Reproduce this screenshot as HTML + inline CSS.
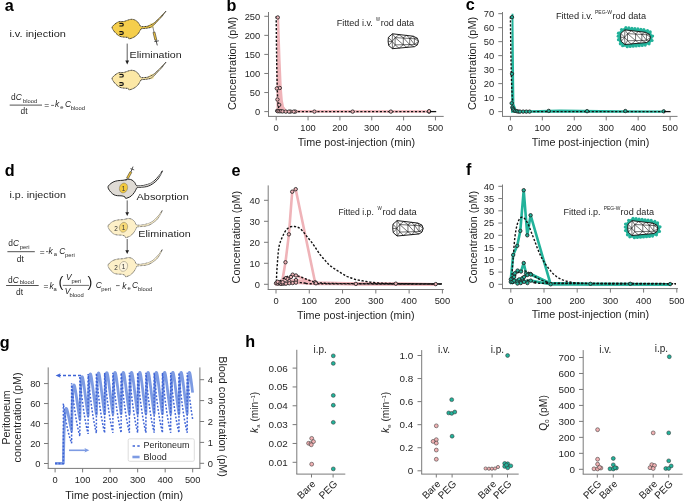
<!DOCTYPE html>
<html><head><meta charset="utf-8"><style>html,body{margin:0;padding:0;background:#fff;width:685px;height:501px;overflow:hidden}</style></head>
<body>
<svg width="685" height="501" viewBox="0 0 685 501" style="position:absolute;left:0;top:0;will-change:transform">
<rect width="685" height="501" fill="#fff"/>
<g font-family="'Liberation Sans', sans-serif" fill="#1f1f1f">
<text x="4.8" y="10.9" font-size="16.2" text-anchor="start" font-weight="bold" fill="#000">a</text>
<text x="9.4" y="36.9" font-size="9.4" text-anchor="start" textLength="56.5" lengthAdjust="spacingAndGlyphs">i.v. injection</text>
<circle cx="151.6" cy="25.6" r="2.6" fill="#fbe27a" opacity="0.55"/>
<path transform="translate(0 0)" d="M112.10,27.60 C112.10,26.78 112.58,26.23 113.40,25.40 C114.22,24.57 115.93,23.25 117.00,22.60 C118.07,21.95 118.82,21.67 119.80,21.50 C120.78,21.33 122.00,21.67 122.90,21.60 C123.80,21.53 124.28,21.38 125.20,21.10 C126.12,20.82 127.35,20.20 128.40,19.90 C129.45,19.60 130.45,19.30 131.50,19.30 C132.55,19.30 133.72,19.50 134.70,19.90 C135.68,20.30 136.65,21.02 137.40,21.70 C138.15,22.38 138.63,23.22 139.20,24.00 C139.77,24.78 140.00,25.97 140.80,26.40 C141.60,26.83 142.83,26.65 144.00,26.60 C145.17,26.55 146.57,26.43 147.80,26.10 C149.03,25.77 150.30,25.18 151.40,24.60 C152.50,24.02 153.48,23.30 154.40,22.60 C155.32,21.90 156.00,21.23 156.90,20.40 C157.80,19.57 158.90,18.50 159.80,17.60 C160.70,16.70 161.28,16.07 162.30,15.00 C163.32,13.93 165.98,10.93 165.90,11.20 C165.82,11.47 163.00,15.15 161.80,16.60 C160.60,18.05 159.67,18.87 158.70,19.90 C157.73,20.93 156.92,21.88 156.00,22.80 C155.08,23.72 154.12,24.63 153.20,25.40 C152.28,26.17 151.70,26.92 150.50,27.40 C149.30,27.88 147.55,28.05 146.00,28.30 C144.45,28.55 142.25,28.42 141.20,28.90 C140.15,29.38 140.25,30.35 139.70,31.20 C139.15,32.05 138.73,33.08 137.90,34.00 C137.07,34.92 135.83,35.97 134.70,36.70 C133.57,37.43 132.08,38.07 131.10,38.40 C130.12,38.73 129.28,38.85 128.80,38.70 C128.32,38.55 128.88,37.75 128.20,37.50 C127.52,37.25 125.80,37.32 124.70,37.20 C123.60,37.08 122.57,37.03 121.60,36.80 C120.63,36.57 119.88,36.42 118.90,35.80 C117.92,35.18 116.62,34.02 115.70,33.10 C114.78,32.18 114.00,31.22 113.40,30.30 C112.80,29.38 112.10,28.42 112.10,27.60 Z" fill="#f5ce4c" stroke="#111" stroke-width="0.85" stroke-dasharray="1.1 0.45" stroke-linejoin="round"/>
<path transform="translate(0 0)" d="M119.4,23.349999999999998 L121.8,23.349999999999998 C123.8,23.349999999999998 123.8,26.05 121.8,26.05 L119.4,26.05" fill="none" stroke="#111" stroke-width="1.1"/>
<path transform="translate(0 0)" d="M119.4,31.65 L121.8,31.65 C123.8,31.65 123.8,34.35 121.8,34.35 L119.4,34.35" fill="none" stroke="#111" stroke-width="1.1"/>
<g stroke="#222" stroke-width="0.55"><path d="M152.8,26.7 L154,32.2"/><path d="M153,32.4 L154.9,32 L156.8,39.8 L154.9,40.2 Z" fill="#eec343"/><path d="M155.9,40 L157.3,45.4" stroke-width="0.8"/><path d="M154.4,41.6 L158.8,40.8" stroke-width="0.8"/></g>
<circle cx="151.6" cy="76.6" r="2.6" fill="#fbe27a" opacity="0.55"/>
<path transform="translate(0 51)" d="M112.10,27.60 C112.10,26.78 112.58,26.23 113.40,25.40 C114.22,24.57 115.93,23.25 117.00,22.60 C118.07,21.95 118.82,21.67 119.80,21.50 C120.78,21.33 122.00,21.67 122.90,21.60 C123.80,21.53 124.28,21.38 125.20,21.10 C126.12,20.82 127.35,20.20 128.40,19.90 C129.45,19.60 130.45,19.30 131.50,19.30 C132.55,19.30 133.72,19.50 134.70,19.90 C135.68,20.30 136.65,21.02 137.40,21.70 C138.15,22.38 138.63,23.22 139.20,24.00 C139.77,24.78 140.00,25.97 140.80,26.40 C141.60,26.83 142.83,26.65 144.00,26.60 C145.17,26.55 146.57,26.43 147.80,26.10 C149.03,25.77 150.30,25.18 151.40,24.60 C152.50,24.02 153.48,23.30 154.40,22.60 C155.32,21.90 156.00,21.23 156.90,20.40 C157.80,19.57 158.90,18.50 159.80,17.60 C160.70,16.70 161.28,16.07 162.30,15.00 C163.32,13.93 165.98,10.93 165.90,11.20 C165.82,11.47 163.00,15.15 161.80,16.60 C160.60,18.05 159.67,18.87 158.70,19.90 C157.73,20.93 156.92,21.88 156.00,22.80 C155.08,23.72 154.12,24.63 153.20,25.40 C152.28,26.17 151.70,26.92 150.50,27.40 C149.30,27.88 147.55,28.05 146.00,28.30 C144.45,28.55 142.25,28.42 141.20,28.90 C140.15,29.38 140.25,30.35 139.70,31.20 C139.15,32.05 138.73,33.08 137.90,34.00 C137.07,34.92 135.83,35.97 134.70,36.70 C133.57,37.43 132.08,38.07 131.10,38.40 C130.12,38.73 129.28,38.85 128.80,38.70 C128.32,38.55 128.88,37.75 128.20,37.50 C127.52,37.25 125.80,37.32 124.70,37.20 C123.60,37.08 122.57,37.03 121.60,36.80 C120.63,36.57 119.88,36.42 118.90,35.80 C117.92,35.18 116.62,34.02 115.70,33.10 C114.78,32.18 114.00,31.22 113.40,30.30 C112.80,29.38 112.10,28.42 112.10,27.60 Z" fill="#fce8a6" stroke="#111" stroke-width="0.85" stroke-dasharray="1.1 0.45" stroke-linejoin="round"/>
<path transform="translate(0 51)" d="M119.4,23.349999999999998 L121.8,23.349999999999998 C123.8,23.349999999999998 123.8,26.05 121.8,26.05 L119.4,26.05" fill="none" stroke="#111" stroke-width="1.1"/>
<path transform="translate(0 51)" d="M119.4,31.65 L121.8,31.65 C123.8,31.65 123.8,34.35 121.8,34.35 L119.4,34.35" fill="none" stroke="#111" stroke-width="1.1"/>
<line x1="127.2" y1="43.6" x2="127.2" y2="61.6" stroke="#333" stroke-width="0.8"/>
<path d="M125.3,60.6 L129.1,60.6 L127.2,64.4 Z" fill="#222"/>
<text x="129.6" y="57.5" font-size="9.4" text-anchor="start" textLength="52.1" lengthAdjust="spacingAndGlyphs">Elimination</text>
<text x="11" y="99.9" font-size="8.4">d</text>
<text x="15.8" y="99.9" font-size="8.4" font-style="italic">C</text>
<text x="23" y="102.8" font-size="5.8">blood</text>
<text x="20.5" y="114.2" font-size="8.4">dt</text>
<text x="44.3" y="108.4" font-size="8.4">=</text>
<text x="54.9" y="107.4" font-size="8.4" font-style="italic">k</text>
<text x="60.3" y="109.2" font-size="5.8">e</text>
<text x="64.9" y="107.4" font-size="8.4" font-style="italic">C</text>
<text x="70.7" y="110.3" font-size="5.8">blood</text>
<line x1="9.7" y1="105.1" x2="42" y2="105.1" stroke="#333" stroke-width="0.85"/>
<line x1="51.1" y1="105.4" x2="54" y2="105.4" stroke="#333" stroke-width="0.7"/>
<text x="4.8" y="175.7" font-size="16.2" text-anchor="start" font-weight="bold" fill="#000">d</text>
<text x="9.4" y="197.5" font-size="9.4" text-anchor="start" textLength="56.5" lengthAdjust="spacingAndGlyphs">i.p. injection</text>
<path transform="translate(0 0)" d="M108.10,186.60 C108.25,185.92 108.58,185.55 109.40,184.80 C110.22,184.05 111.63,182.78 113.00,182.10 C114.37,181.42 115.93,181.00 117.60,180.70 C119.27,180.40 121.57,180.48 123.00,180.30 C124.43,180.12 125.22,179.78 126.20,179.60 C127.18,179.42 127.92,179.12 128.90,179.20 C129.88,179.28 131.12,179.53 132.10,180.10 C133.08,180.67 134.05,181.68 134.80,182.60 C135.55,183.52 135.40,185.08 136.60,185.60 C137.80,186.12 139.90,185.98 142.00,185.70 C144.10,185.42 147.33,184.58 149.20,183.90 C151.07,183.22 151.98,182.50 153.20,181.60 C154.42,180.70 155.43,179.60 156.50,178.50 C157.57,177.40 158.62,176.28 159.60,175.00 C160.58,173.72 162.27,170.77 162.40,170.80 C162.53,170.83 161.23,173.70 160.40,175.20 C159.57,176.70 158.47,178.53 157.40,179.80 C156.33,181.07 155.20,181.88 154.00,182.80 C152.80,183.72 151.45,184.67 150.20,185.30 C148.95,185.93 147.72,186.30 146.50,186.60 C145.28,186.90 144.45,186.92 142.90,187.10 C141.35,187.28 138.33,187.33 137.20,187.70 C136.07,188.07 136.58,188.50 136.10,189.30 C135.62,190.10 135.13,191.37 134.30,192.50 C133.47,193.63 132.15,195.23 131.10,196.10 C130.05,196.97 128.90,197.32 128.00,197.70 C127.10,198.08 126.20,198.52 125.70,198.40 C125.20,198.28 125.60,197.42 125.00,197.00 C124.40,196.58 123.33,196.12 122.10,195.90 C120.87,195.68 118.95,195.88 117.60,195.70 C116.25,195.52 115.13,195.40 114.00,194.80 C112.87,194.20 111.72,193.08 110.80,192.10 C109.88,191.12 108.95,189.82 108.50,188.90 C108.05,187.98 107.95,187.28 108.10,186.60 Z" fill="#dfdbd5" stroke="#1a1a1a" stroke-width="0.95" stroke-linejoin="round"/>
<path transform="translate(0 0)" d="M137.8,186.7 C143,186.6 150,185 155,181 C157.6,178.7 159.6,175.8 161.2,173" fill="none" stroke="#fafafa" stroke-width="0.55"/>
<ellipse transform="translate(0 0) rotate(18 123.5 188)" cx="123.5" cy="188" rx="4" ry="5" fill="#f2c93f" stroke="#333" stroke-width="0.5" stroke-dasharray="0.6 0.5"/>
<text x="123.6" y="190.5" font-size="6.4" text-anchor="middle" fill="#333">1</text>
<g stroke="#222" stroke-width="0.5"><path d="M125.7,181 L127.6,177.6"/><path d="M126.6,177.8 L128.4,178.6 L131.8,172.4 L130,171.6 Z" fill="#ecc23e"/><path d="M131,171.8 L133,166.6" stroke-width="0.8"/><path d="M130.4,168.6 L134.2,169.9" stroke-width="0.7"/></g>
<path transform="translate(0 39.3)" d="M108.10,186.60 C108.25,185.92 108.58,185.55 109.40,184.80 C110.22,184.05 111.63,182.78 113.00,182.10 C114.37,181.42 115.93,181.00 117.60,180.70 C119.27,180.40 121.57,180.48 123.00,180.30 C124.43,180.12 125.22,179.78 126.20,179.60 C127.18,179.42 127.92,179.12 128.90,179.20 C129.88,179.28 131.12,179.53 132.10,180.10 C133.08,180.67 134.05,181.68 134.80,182.60 C135.55,183.52 135.40,185.08 136.60,185.60 C137.80,186.12 139.90,185.98 142.00,185.70 C144.10,185.42 147.33,184.58 149.20,183.90 C151.07,183.22 151.98,182.50 153.20,181.60 C154.42,180.70 155.43,179.60 156.50,178.50 C157.57,177.40 158.62,176.28 159.60,175.00 C160.58,173.72 162.27,170.77 162.40,170.80 C162.53,170.83 161.23,173.70 160.40,175.20 C159.57,176.70 158.47,178.53 157.40,179.80 C156.33,181.07 155.20,181.88 154.00,182.80 C152.80,183.72 151.45,184.67 150.20,185.30 C148.95,185.93 147.72,186.30 146.50,186.60 C145.28,186.90 144.45,186.92 142.90,187.10 C141.35,187.28 138.33,187.33 137.20,187.70 C136.07,188.07 136.58,188.50 136.10,189.30 C135.62,190.10 135.13,191.37 134.30,192.50 C133.47,193.63 132.15,195.23 131.10,196.10 C130.05,196.97 128.90,197.32 128.00,197.70 C127.10,198.08 126.20,198.52 125.70,198.40 C125.20,198.28 125.60,197.42 125.00,197.00 C124.40,196.58 123.33,196.12 122.10,195.90 C120.87,195.68 118.95,195.88 117.60,195.70 C116.25,195.52 115.13,195.40 114.00,194.80 C112.87,194.20 111.72,193.08 110.80,192.10 C109.88,191.12 108.95,189.82 108.50,188.90 C108.05,187.98 107.95,187.28 108.10,186.60 Z" fill="#fdf0c8" stroke="#1a1a1a" stroke-width="0.75" stroke-dasharray="0.75 0.6" stroke-linejoin="round"/>
<path transform="translate(0 39.3)" d="M137.8,186.7 C143,186.6 150,185 155,181 C157.6,178.7 159.6,175.8 161.2,173" fill="none" stroke="#fdf3d2" stroke-width="0.55"/>
<ellipse transform="translate(0 39.3) rotate(18 123.5 188)" cx="123.5" cy="188" rx="4" ry="5" fill="#f7d977" stroke="#333" stroke-width="0.5" stroke-dasharray="0.6 0.5"/>
<text x="123.6" y="229.8" font-size="6.4" text-anchor="middle" fill="#333">1</text>
<text x="116.1" y="230.7" font-size="6.4" text-anchor="middle" fill="#333">2</text>
<path transform="translate(0 78.4)" d="M108.10,186.60 C108.25,185.92 108.58,185.55 109.40,184.80 C110.22,184.05 111.63,182.78 113.00,182.10 C114.37,181.42 115.93,181.00 117.60,180.70 C119.27,180.40 121.57,180.48 123.00,180.30 C124.43,180.12 125.22,179.78 126.20,179.60 C127.18,179.42 127.92,179.12 128.90,179.20 C129.88,179.28 131.12,179.53 132.10,180.10 C133.08,180.67 134.05,181.68 134.80,182.60 C135.55,183.52 135.40,185.08 136.60,185.60 C137.80,186.12 139.90,185.98 142.00,185.70 C144.10,185.42 147.33,184.58 149.20,183.90 C151.07,183.22 151.98,182.50 153.20,181.60 C154.42,180.70 155.43,179.60 156.50,178.50 C157.57,177.40 158.62,176.28 159.60,175.00 C160.58,173.72 162.27,170.77 162.40,170.80 C162.53,170.83 161.23,173.70 160.40,175.20 C159.57,176.70 158.47,178.53 157.40,179.80 C156.33,181.07 155.20,181.88 154.00,182.80 C152.80,183.72 151.45,184.67 150.20,185.30 C148.95,185.93 147.72,186.30 146.50,186.60 C145.28,186.90 144.45,186.92 142.90,187.10 C141.35,187.28 138.33,187.33 137.20,187.70 C136.07,188.07 136.58,188.50 136.10,189.30 C135.62,190.10 135.13,191.37 134.30,192.50 C133.47,193.63 132.15,195.23 131.10,196.10 C130.05,196.97 128.90,197.32 128.00,197.70 C127.10,198.08 126.20,198.52 125.70,198.40 C125.20,198.28 125.60,197.42 125.00,197.00 C124.40,196.58 123.33,196.12 122.10,195.90 C120.87,195.68 118.95,195.88 117.60,195.70 C116.25,195.52 115.13,195.40 114.00,194.80 C112.87,194.20 111.72,193.08 110.80,192.10 C109.88,191.12 108.95,189.82 108.50,188.90 C108.05,187.98 107.95,187.28 108.10,186.60 Z" fill="#fdf0c8" stroke="#1a1a1a" stroke-width="0.75" stroke-dasharray="0.75 0.6" stroke-linejoin="round"/>
<path transform="translate(0 78.4)" d="M137.8,186.7 C143,186.6 150,185 155,181 C157.6,178.7 159.6,175.8 161.2,173" fill="none" stroke="#fdf3d2" stroke-width="0.55"/>
<ellipse transform="translate(0 78.4) rotate(18 123.5 188)" cx="123.5" cy="188" rx="4" ry="5" fill="#fdf4dc" stroke="#333" stroke-width="0.5" stroke-dasharray="0.6 0.5"/>
<text x="123.6" y="268.9" font-size="6.4" text-anchor="middle" fill="#333">1</text>
<text x="116.1" y="269.8" font-size="6.4" text-anchor="middle" fill="#333">2</text>
<text x="136.5" y="199.9" font-size="9.4" text-anchor="start" textLength="52.3" lengthAdjust="spacingAndGlyphs">Absorption</text>
<text x="138.3" y="237.4" font-size="9.4" text-anchor="start" textLength="52.5" lengthAdjust="spacingAndGlyphs">Elimination</text>
<line x1="127.2" y1="200.4" x2="127.2" y2="213" stroke="#333" stroke-width="0.8"/>
<path d="M125.3,212.2 L129.1,212.2 L127.2,216 Z" fill="#222"/>
<line x1="127.2" y1="239" x2="127.2" y2="251" stroke="#333" stroke-width="0.8"/>
<path d="M125.3,250.2 L129.1,250.2 L127.2,254 Z" fill="#222"/>
<text x="8.3" y="246.2" font-size="8.4">d</text>
<text x="13.1" y="246.2" font-size="8.4" font-style="italic">C</text>
<text x="19.8" y="249" font-size="5.8">peri</text>
<text x="16.8" y="261.5" font-size="8.4">dt</text>
<text x="39.8" y="254.5" font-size="8.4">=</text>
<text x="48.6" y="254.4" font-size="8.4" font-style="italic">k</text>
<text x="53.7" y="256" font-size="5.8">a</text>
<text x="59.2" y="254.4" font-size="8.4" font-style="italic">C</text>
<text x="65" y="257.4" font-size="5.8">peri</text>
<line x1="7.4" y1="251.7" x2="34.8" y2="251.7" stroke="#333" stroke-width="0.85"/>
<line x1="46" y1="251.6" x2="48.3" y2="251.6" stroke="#333" stroke-width="0.7"/>
<text x="8" y="282.6" font-size="8.4">d</text>
<text x="12.8" y="282.6" font-size="8.4" font-style="italic">C</text>
<text x="19.7" y="283.6" font-size="5.8">blood</text>
<text x="16" y="295" font-size="8.4">dt</text>
<text x="43.5" y="289" font-size="8.4">=</text>
<text x="49.6" y="288.9" font-size="8.4" font-style="italic">k</text>
<text x="53.6" y="290.5" font-size="5.8">a</text>
<text x="58.6" y="287.4" font-size="14.5">(</text>
<text x="66" y="280" font-size="8.4" font-style="italic">V</text>
<text x="71.5" y="282.5" font-size="5.8">peri</text>
<text x="64.7" y="294" font-size="8.4" font-style="italic">V</text>
<text x="69.6" y="297" font-size="5.8">blood</text>
<text x="87.6" y="287.4" font-size="14.5">)</text>
<text x="95.7" y="288.2" font-size="8.4" font-style="italic">C</text>
<text x="101.3" y="290.8" font-size="5.8">peri</text>
<text x="122.3" y="288.5" font-size="8.4" font-style="italic">k</text>
<text x="127.5" y="290.2" font-size="5.8">e</text>
<text x="132" y="288.2" font-size="8.4" font-style="italic">C</text>
<text x="138" y="290.8" font-size="5.8">blood</text>
<line x1="6.1" y1="285.5" x2="38.7" y2="285.5" stroke="#333" stroke-width="0.85"/>
<line x1="62.8" y1="285.4" x2="89" y2="285.4" stroke="#333" stroke-width="0.7"/>
<line x1="116" y1="285.6" x2="119.7" y2="285.6" stroke="#333" stroke-width="0.7"/>
<text x="226.4" y="10.9" font-size="16.2" text-anchor="start" font-weight="bold" fill="#000">b</text>
<line x1="268.5" y1="12" x2="268.5" y2="116.4" stroke="#7a7a7a" stroke-width="1"/>
<line x1="268" y1="116.4" x2="443.7" y2="116.4" stroke="#7a7a7a" stroke-width="1"/>
<line x1="264.3" y1="111.6" x2="268.5" y2="111.6" stroke="#7a7a7a" stroke-width="1"/>
<text x="260.2" y="114.9" font-size="9.3" text-anchor="end">0</text>
<line x1="264.3" y1="92.54" x2="268.5" y2="92.54" stroke="#7a7a7a" stroke-width="1"/>
<text x="260.2" y="95.84" font-size="9.3" text-anchor="end">50</text>
<line x1="264.3" y1="73.48" x2="268.5" y2="73.48" stroke="#7a7a7a" stroke-width="1"/>
<text x="260.2" y="76.78" font-size="9.3" text-anchor="end">100</text>
<line x1="264.3" y1="54.42" x2="268.5" y2="54.42" stroke="#7a7a7a" stroke-width="1"/>
<text x="260.2" y="57.72" font-size="9.3" text-anchor="end">150</text>
<line x1="264.3" y1="35.36" x2="268.5" y2="35.36" stroke="#7a7a7a" stroke-width="1"/>
<text x="260.2" y="38.66" font-size="9.3" text-anchor="end">200</text>
<line x1="264.3" y1="16.3" x2="268.5" y2="16.3" stroke="#7a7a7a" stroke-width="1"/>
<text x="260.2" y="19.6" font-size="9.3" text-anchor="end">250</text>
<line x1="276.2" y1="116.4" x2="276.2" y2="120.4" stroke="#7a7a7a" stroke-width="1"/>
<text x="276.2" y="131.4" font-size="9.3" text-anchor="middle">0</text>
<line x1="308.05" y1="116.4" x2="308.05" y2="120.4" stroke="#7a7a7a" stroke-width="1"/>
<text x="308.05" y="131.4" font-size="9.3" text-anchor="middle">100</text>
<line x1="339.9" y1="116.4" x2="339.9" y2="120.4" stroke="#7a7a7a" stroke-width="1"/>
<text x="339.9" y="131.4" font-size="9.3" text-anchor="middle">200</text>
<line x1="371.75" y1="116.4" x2="371.75" y2="120.4" stroke="#7a7a7a" stroke-width="1"/>
<text x="371.75" y="131.4" font-size="9.3" text-anchor="middle">300</text>
<line x1="403.6" y1="116.4" x2="403.6" y2="120.4" stroke="#7a7a7a" stroke-width="1"/>
<text x="403.6" y="131.4" font-size="9.3" text-anchor="middle">400</text>
<line x1="435.45" y1="116.4" x2="435.45" y2="120.4" stroke="#7a7a7a" stroke-width="1"/>
<text x="435.45" y="131.4" font-size="9.3" text-anchor="middle">500</text>
<text x="356.4" y="146.1" font-size="10.2" text-anchor="middle" textLength="117.5" lengthAdjust="spacingAndGlyphs">Time post-injection (min)</text>
<text x="236" y="63.5" font-size="10.2" text-anchor="middle" textLength="93.2" lengthAdjust="spacingAndGlyphs" transform="rotate(-90 236 63.5)">Concentration (pM)</text>
<text x="336.7" y="25.8" font-size="8.6" text-anchor="start" textLength="36.2" lengthAdjust="spacingAndGlyphs">Fitted i.v.</text>
<text x="375.9" y="21.2" font-size="5" text-anchor="start" textLength="4" lengthAdjust="spacingAndGlyphs">W</text>
<text x="380.8" y="25.8" font-size="8.6" text-anchor="start" textLength="33.2" lengthAdjust="spacingAndGlyphs">rod data</text>
<g transform="translate(388.1 33.8) scale(1.000 1.000)"><path d="M7,3.8 L7,11.1 M7,3.8 L27.4,5 M7,11.1 L27.4,10.6 M15.2,3.7 L15.2,11 M21.6,4.1 L21.6,10.8 M26.3,4.6 L26.3,10.7 M7,3.8 L15.2,10.9 M15.2,3.9 L21.6,10.8 M21.6,4.3 L26.3,10.6 M4.1,7.6 L4.4,0 M4.1,7.6 L0.3,3.5 M4.1,7.6 L0.6,11.7 M4.1,7.6 L4.4,14.9 M4.1,7.6 L7,3.8 M4.1,7.6 L7,11.1 M4.1,7.6 L0,7.6 M4.4,0 L7,3.8 M4.4,14.9 L7,11.1 M7,3.8 L11,1 L15.2,3.9 L18.5,1.6 L21.6,4.3 L25.1,2.4 M25.1,2.4 L26.3,4.6 M7,11.1 L11,14.4 L15.2,10.9 L19,13.7 L21.6,10.8 L26.3,12.9 M26.3,4.6 L30.4,7.6 L26.3,10.7 M27.4,5 L29.2,4.4 M27.4,10.6 L29.2,11.1" fill="none" stroke="#1a1a1a" stroke-width="0.62" stroke-linejoin="round"/><path d="M4.4,0 L25.1,2.4 L29.2,4.4 L30.4,7.6 L29.2,11.1 L26.3,12.9 L4.4,14.9 L0.6,11.7 L0,7.6 L0.3,3.5 Z" fill="none" stroke="#111" stroke-width="0.95" stroke-linejoin="round"/></g>
<path d="M277.2,17.2 L279.2,17.6 L280.6,60 L281.8,87.5 L282.8,100 L284,106.5 L286.5,110.1 L431,110.3 L431,112.7 L276.6,112.7 L276.4,100 L276.8,60 Z" fill="#efb3b8"/>
<path d="M276.2,16.3 L276.28,25.8 L276.36,34.35 L276.44,42.05 L276.52,48.98 L276.6,55.22 L276.68,60.84 L276.76,65.9 L276.84,70.46 L276.92,74.56 L277,78.25 L277.08,81.58 L277.16,84.57 L277.24,87.26 L277.31,89.69 L277.39,91.87 L277.47,93.84 L277.55,95.61 L277.63,97.2 L277.71,98.64 L277.79,99.93 L277.87,101.09 L277.95,102.14 L278.03,103.08 L278.11,103.93 L278.19,104.7 L278.27,105.38 L278.35,106 L278.43,106.56 L278.51,107.06 L278.59,107.52 L278.67,107.92 L278.75,108.29 L278.83,108.62 L278.91,108.92 L278.99,109.18 L279.07,109.42 L279.15,109.64 L279.23,109.84 L279.31,110.01 L279.38,110.17 L279.46,110.31 L279.54,110.44 L279.62,110.56 L279.7,110.66 L279.78,110.75 L279.86,110.84 L279.94,110.91 L280.02,110.98 L280.1,111.04 L280.18,111.1 L280.26,111.15 L280.34,111.19 L280.42,111.24 L280.5,111.27 L280.58,111.3 L280.66,111.33 L280.74,111.36 L280.82,111.38 L280.9,111.41 L280.98,111.43 L281.06,111.44 L281.14,111.46 L281.22,111.47 L281.3,111.49 L281.38,111.5 L281.46,111.51 L281.53,111.52 L281.61,111.52 L281.69,111.53 L281.77,111.54 L281.85,111.54 L281.93,111.55 L282.01,111.56 L282.09,111.56 L282.17,111.56 L282.25,111.57 L282.33,111.57 L282.41,111.57 L282.49,111.58 L282.57,111.58 L282.65,111.58 L282.73,111.58 L282.81,111.58 L282.89,111.59 L282.97,111.59 L283.05,111.59 L283.13,111.59 L283.21,111.59 L283.29,111.59 L283.37,111.59 L283.45,111.59 L283.53,111.59 L283.61,111.59 L283.68,111.6 L283.76,111.6 L283.84,111.6 L283.92,111.6 L284,111.6 L284.08,111.6 L284.16,111.6 L284.24,111.6 L284.32,111.6 L284.4,111.6 L284.48,111.6 L284.56,111.6 L284.64,111.6 L284.72,111.6 L284.8,111.6 L284.88,111.6 L284.96,111.6 L285.04,111.6 L285.12,111.6 L285.2,111.6 L285.28,111.6 L285.36,111.6 L285.44,111.6 L285.52,111.6 L285.6,111.6 L285.68,111.6 L285.75,111.6 L287.35,111.6 L288.94,111.6 L290.53,111.6 L292.12,111.6 L293.72,111.6 L295.31,111.6 L296.9,111.6 L298.5,111.6 L300.09,111.6 L301.68,111.6 L303.27,111.6 L304.87,111.6 L306.46,111.6 L308.05,111.6 L309.64,111.6 L311.24,111.6 L312.83,111.6 L314.42,111.6 L316.01,111.6 L317.61,111.6 L319.2,111.6 L320.79,111.6 L322.38,111.6 L323.97,111.6 L325.57,111.6 L327.16,111.6 L328.75,111.6 L330.34,111.6 L331.94,111.6 L333.53,111.6 L335.12,111.6 L336.71,111.6 L338.31,111.6 L339.9,111.6 L341.49,111.6 L343.08,111.6 L344.68,111.6 L346.27,111.6 L347.86,111.6 L349.45,111.6 L351.05,111.6 L352.64,111.6 L354.23,111.6 L355.82,111.6 L357.42,111.6 L359.01,111.6 L360.6,111.6 L362.19,111.6 L363.79,111.6 L365.38,111.6 L366.97,111.6 L368.56,111.6 L370.16,111.6 L371.75,111.6 L373.34,111.6 L374.94,111.6 L376.53,111.6 L378.12,111.6 L379.71,111.6 L381.31,111.6 L382.9,111.6 L384.49,111.6 L386.08,111.6 L387.68,111.6 L389.27,111.6 L390.86,111.6 L392.45,111.6 L394.04,111.6 L395.64,111.6 L397.23,111.6 L398.82,111.6 L400.41,111.6 L402.01,111.6 L403.6,111.6 L405.19,111.6 L406.78,111.6 L408.38,111.6 L409.97,111.6 L411.56,111.6 L413.15,111.6 L414.75,111.6 L416.34,111.6 L417.93,111.6 L419.52,111.6 L421.12,111.6 L422.71,111.6 L424.3,111.6 L425.89,111.6 L427.49,111.6 L429.08,111.6" fill="none" stroke="#111" stroke-width="1.4" stroke-dasharray="2.2 1.7" stroke-linecap="butt"/>
<circle cx="277.79" cy="17.44" r="1.7" fill="#efb3b8" stroke="#222" stroke-width="0.85"/>
<circle cx="279.8" cy="87.97" r="1.7" fill="#efb3b8" stroke="#222" stroke-width="0.85"/>
<circle cx="276.81" cy="88.46" r="1.7" fill="#efb3b8" stroke="#222" stroke-width="0.85"/>
<circle cx="277.41" cy="99.52" r="1.7" fill="#efb3b8" stroke="#222" stroke-width="0.85"/>
<circle cx="279.19" cy="104.89" r="1.7" fill="#efb3b8" stroke="#222" stroke-width="0.85"/>
<circle cx="277.16" cy="110.84" r="1.7" fill="#efb3b8" stroke="#222" stroke-width="0.85"/>
<circle cx="277.79" cy="111.22" r="1.7" fill="#efb3b8" stroke="#222" stroke-width="0.85"/>
<circle cx="279.38" cy="111.22" r="1.7" fill="#efb3b8" stroke="#222" stroke-width="0.85"/>
<circle cx="280.98" cy="111.22" r="1.7" fill="#efb3b8" stroke="#222" stroke-width="0.85"/>
<circle cx="282.57" cy="111.41" r="1.7" fill="#efb3b8" stroke="#222" stroke-width="0.85"/>
<circle cx="285.75" cy="111.6" r="1.7" fill="#efb3b8" stroke="#222" stroke-width="0.85"/>
<circle cx="290.53" cy="111.6" r="1.7" fill="#efb3b8" stroke="#222" stroke-width="0.85"/>
<circle cx="295.31" cy="111.6" r="1.7" fill="#efb3b8" stroke="#222" stroke-width="0.85"/>
<circle cx="293.72" cy="111.6" r="1.7" fill="#efb3b8" stroke="#222" stroke-width="0.85"/>
<circle cx="288.94" cy="111.6" r="1.7" fill="#efb3b8" stroke="#222" stroke-width="0.85"/>
<circle cx="314.42" cy="111.6" r="1.7" fill="#efb3b8" stroke="#222" stroke-width="0.85"/>
<circle cx="352.64" cy="111.6" r="1.7" fill="#efb3b8" stroke="#222" stroke-width="0.85"/>
<circle cx="390.86" cy="111.6" r="1.7" fill="#efb3b8" stroke="#222" stroke-width="0.85"/>
<circle cx="429.08" cy="111.6" r="1.7" fill="#efb3b8" stroke="#222" stroke-width="0.85"/>
<circle cx="429.08" cy="111.22" r="1.7" fill="#efb3b8" stroke="#222" stroke-width="0.85"/>
<line x1="430" y1="111.6" x2="436.2" y2="111.6" stroke="#111" stroke-width="1.3"/>
<text x="465.8" y="10.3" font-size="16.2" text-anchor="start" font-weight="bold" fill="#000">c</text>
<line x1="502.5" y1="12" x2="502.5" y2="116.4" stroke="#7a7a7a" stroke-width="1"/>
<line x1="502" y1="116.4" x2="677.5" y2="116.4" stroke="#7a7a7a" stroke-width="1"/>
<line x1="498.3" y1="111.6" x2="502.5" y2="111.6" stroke="#7a7a7a" stroke-width="1"/>
<text x="494.2" y="114.9" font-size="9.3" text-anchor="end">0</text>
<line x1="498.3" y1="97.61" x2="502.5" y2="97.61" stroke="#7a7a7a" stroke-width="1"/>
<text x="494.2" y="100.91" font-size="9.3" text-anchor="end">10</text>
<line x1="498.3" y1="83.62" x2="502.5" y2="83.62" stroke="#7a7a7a" stroke-width="1"/>
<text x="494.2" y="86.92" font-size="9.3" text-anchor="end">20</text>
<line x1="498.3" y1="69.63" x2="502.5" y2="69.63" stroke="#7a7a7a" stroke-width="1"/>
<text x="494.2" y="72.93" font-size="9.3" text-anchor="end">30</text>
<line x1="498.3" y1="55.64" x2="502.5" y2="55.64" stroke="#7a7a7a" stroke-width="1"/>
<text x="494.2" y="58.94" font-size="9.3" text-anchor="end">40</text>
<line x1="498.3" y1="41.65" x2="502.5" y2="41.65" stroke="#7a7a7a" stroke-width="1"/>
<text x="494.2" y="44.95" font-size="9.3" text-anchor="end">50</text>
<line x1="498.3" y1="27.66" x2="502.5" y2="27.66" stroke="#7a7a7a" stroke-width="1"/>
<text x="494.2" y="30.96" font-size="9.3" text-anchor="end">60</text>
<line x1="498.3" y1="13.67" x2="502.5" y2="13.67" stroke="#7a7a7a" stroke-width="1"/>
<text x="494.2" y="16.97" font-size="9.3" text-anchor="end">70</text>
<line x1="510.4" y1="116.4" x2="510.4" y2="120.4" stroke="#7a7a7a" stroke-width="1"/>
<text x="510.4" y="131.4" font-size="9.3" text-anchor="middle">0</text>
<line x1="542.34" y1="116.4" x2="542.34" y2="120.4" stroke="#7a7a7a" stroke-width="1"/>
<text x="542.34" y="131.4" font-size="9.3" text-anchor="middle">100</text>
<line x1="574.28" y1="116.4" x2="574.28" y2="120.4" stroke="#7a7a7a" stroke-width="1"/>
<text x="574.28" y="131.4" font-size="9.3" text-anchor="middle">200</text>
<line x1="606.22" y1="116.4" x2="606.22" y2="120.4" stroke="#7a7a7a" stroke-width="1"/>
<text x="606.22" y="131.4" font-size="9.3" text-anchor="middle">300</text>
<line x1="638.16" y1="116.4" x2="638.16" y2="120.4" stroke="#7a7a7a" stroke-width="1"/>
<text x="638.16" y="131.4" font-size="9.3" text-anchor="middle">400</text>
<line x1="670.1" y1="116.4" x2="670.1" y2="120.4" stroke="#7a7a7a" stroke-width="1"/>
<text x="670.1" y="131.4" font-size="9.3" text-anchor="middle">500</text>
<text x="590.6" y="146.1" font-size="10.2" text-anchor="middle" textLength="117.5" lengthAdjust="spacingAndGlyphs">Time post-injection (min)</text>
<text x="476" y="63.5" font-size="10.2" text-anchor="middle" textLength="93.2" lengthAdjust="spacingAndGlyphs" transform="rotate(-90 476 63.5)">Concentration (pM)</text>
<text x="555.9" y="18.9" font-size="8.6" text-anchor="start" textLength="36.9" lengthAdjust="spacingAndGlyphs">Fitted i.v.</text>
<text x="595" y="13.6" font-size="5" text-anchor="start" textLength="17" lengthAdjust="spacingAndGlyphs">PEG-W</text>
<text x="612.4" y="18.9" font-size="8.6" text-anchor="start" textLength="33.6" lengthAdjust="spacingAndGlyphs">rod data</text>
<g transform="translate(620.6 29.9) scale(0.984 0.980)"><path d="M4.4,0 L25.1,2.4 L29.2,4.4 L30.4,7.6 L29.2,11.1 L26.3,12.9 L4.4,14.9 L0.6,11.7 L0,7.6 L0.3,3.5 Z" fill="#22b29a" stroke="#22b29a" stroke-width="4.6" stroke-linejoin="round"/><g fill="#22b29a"><circle cx="5.38" cy="-2.40" r="1.6"/><circle cx="8.42" cy="-2.05" r="1.6"/><circle cx="11.47" cy="-1.70" r="1.6"/><circle cx="14.51" cy="-1.34" r="1.6"/><circle cx="17.55" cy="-0.99" r="1.6"/><circle cx="20.59" cy="-0.64" r="1.6"/><circle cx="23.63" cy="-0.29" r="1.6"/><circle cx="27.36" cy="0.72" r="1.6"/><circle cx="30.11" cy="2.06" r="1.6"/><circle cx="32.54" cy="6.19" r="1.6"/><circle cx="31.96" cy="10.77" r="1.6"/><circle cx="28.94" cy="14.20" r="1.6"/><circle cx="25.03" cy="15.53" r="1.6"/><circle cx="21.98" cy="15.81" r="1.6"/><circle cx="18.93" cy="16.08" r="1.6"/><circle cx="15.88" cy="16.36" r="1.6"/><circle cx="12.83" cy="16.64" r="1.6"/><circle cx="9.78" cy="16.92" r="1.6"/><circle cx="6.74" cy="17.20" r="1.6"/><circle cx="2.07" cy="16.20" r="1.6"/><circle cx="-0.27" cy="14.23" r="1.6"/><circle cx="-2.18" cy="9.98" r="1.6"/><circle cx="-2.42" cy="6.40" r="1.6"/><circle cx="-2.20" cy="3.35" r="1.6"/><circle cx="0.98" cy="-0.37" r="1.6"/></g><path d="M4.4,0 L25.1,2.4 L29.2,4.4 L30.4,7.6 L29.2,11.1 L26.3,12.9 L4.4,14.9 L0.6,11.7 L0,7.6 L0.3,3.5 Z" fill="#fff"/><path d="M7,3.8 L7,11.1 M7,3.8 L27.4,5 M7,11.1 L27.4,10.6 M15.2,3.7 L15.2,11 M21.6,4.1 L21.6,10.8 M26.3,4.6 L26.3,10.7 M7,3.8 L15.2,10.9 M15.2,3.9 L21.6,10.8 M21.6,4.3 L26.3,10.6 M4.1,7.6 L4.4,0 M4.1,7.6 L0.3,3.5 M4.1,7.6 L0.6,11.7 M4.1,7.6 L4.4,14.9 M4.1,7.6 L7,3.8 M4.1,7.6 L7,11.1 M4.1,7.6 L0,7.6 M4.4,0 L7,3.8 M4.4,14.9 L7,11.1 M7,3.8 L11,1 L15.2,3.9 L18.5,1.6 L21.6,4.3 L25.1,2.4 M25.1,2.4 L26.3,4.6 M7,11.1 L11,14.4 L15.2,10.9 L19,13.7 L21.6,10.8 L26.3,12.9 M26.3,4.6 L30.4,7.6 L26.3,10.7 M27.4,5 L29.2,4.4 M27.4,10.6 L29.2,11.1" fill="none" stroke="#1a1a1a" stroke-width="0.62" stroke-linejoin="round"/><path d="M4.4,0 L25.1,2.4 L29.2,4.4 L30.4,7.6 L29.2,11.1 L26.3,12.9 L4.4,14.9 L0.6,11.7 L0,7.6 L0.3,3.5 Z" fill="none" stroke="#111" stroke-width="0.95" stroke-linejoin="round"/></g>
<path d="M511.6,13.7 L513.4,13.7 L514.4,104 L516.6,109.8 L520,110.6 L560,109.6 L620,110.2 L665,110.6 L665,112.8 L511,112.8 L511.2,100 Z" fill="#22b29a"/>
<path d="M510.4,16.47 L510.48,23.78 L510.56,30.53 L510.64,36.77 L510.72,42.52 L510.8,47.83 L510.88,52.73 L510.96,57.26 L511.04,61.44 L511.12,65.29 L511.2,68.85 L511.28,72.14 L511.36,75.17 L511.44,77.98 L511.52,80.56 L511.6,82.95 L511.68,85.15 L511.76,87.18 L511.84,89.06 L511.92,90.79 L512,92.39 L512.08,93.87 L512.16,95.23 L512.24,96.49 L512.32,97.65 L512.4,98.73 L512.48,99.72 L512.56,100.63 L512.64,101.47 L512.72,102.25 L512.8,102.97 L512.88,103.63 L512.96,104.25 L513.04,104.81 L513.11,105.33 L513.19,105.82 L513.27,106.26 L513.35,106.67 L513.43,107.05 L513.51,107.4 L513.59,107.72 L513.67,108.02 L513.75,108.3 L513.83,108.55 L513.91,108.78 L513.99,109 L514.07,109.2 L514.15,109.38 L514.23,109.56 L514.31,109.71 L514.39,109.86 L514.47,109.99 L514.55,110.12 L514.63,110.23 L514.71,110.33 L514.79,110.43 L514.87,110.52 L514.95,110.6 L515.03,110.68 L515.11,110.75 L515.19,110.82 L515.27,110.88 L515.35,110.93 L515.43,110.98 L515.51,111.03 L515.59,111.08 L515.67,111.12 L515.75,111.15 L515.83,111.19 L515.91,111.22 L515.99,111.25 L516.07,111.28 L516.15,111.3 L516.23,111.32 L516.31,111.34 L516.39,111.36 L516.47,111.38 L516.55,111.4 L516.63,111.41 L516.71,111.43 L516.79,111.44 L516.87,111.45 L516.95,111.47 L517.03,111.48 L517.11,111.49 L517.19,111.49 L517.27,111.5 L517.35,111.51 L517.43,111.52 L517.51,111.52 L517.59,111.53 L517.67,111.53 L517.75,111.54 L517.83,111.54 L517.91,111.55 L517.99,111.55 L518.07,111.56 L518.15,111.56 L518.23,111.56 L518.31,111.57 L518.38,111.57 L519.98,111.59 L521.58,111.6 L523.18,111.6 L524.77,111.6 L526.37,111.6 L527.97,111.6 L529.56,111.6 L531.16,111.6 L532.76,111.6 L534.36,111.6 L535.95,111.6 L537.55,111.6 L539.15,111.6 L540.74,111.6 L542.34,111.6 L543.94,111.6 L545.53,111.6 L547.13,111.6 L548.73,111.6 L550.32,111.6 L551.92,111.6 L553.52,111.6 L555.12,111.6 L556.71,111.6 L558.31,111.6 L559.91,111.6 L561.5,111.6 L563.1,111.6 L564.7,111.6 L566.29,111.6 L567.89,111.6 L569.49,111.6 L571.09,111.6 L572.68,111.6 L574.28,111.6 L575.88,111.6 L577.47,111.6 L579.07,111.6 L580.67,111.6 L582.26,111.6 L583.86,111.6 L585.46,111.6 L587.06,111.6 L588.65,111.6 L590.25,111.6 L591.85,111.6 L593.44,111.6 L595.04,111.6 L596.64,111.6 L598.24,111.6 L599.83,111.6 L601.43,111.6 L603.03,111.6 L604.62,111.6 L606.22,111.6 L607.82,111.6 L609.41,111.6 L611.01,111.6 L612.61,111.6 L614.2,111.6 L615.8,111.6 L617.4,111.6 L619,111.6 L620.59,111.6 L622.19,111.6 L623.79,111.6 L625.38,111.6 L626.98,111.6 L628.58,111.6 L630.17,111.6 L631.77,111.6 L633.37,111.6 L634.97,111.6 L636.56,111.6 L638.16,111.6 L639.76,111.6 L641.35,111.6 L642.95,111.6 L644.55,111.6 L646.14,111.6 L647.74,111.6 L649.34,111.6 L650.94,111.6 L652.53,111.6 L654.13,111.6 L655.73,111.6 L657.32,111.6 L658.92,111.6 L660.52,111.6 L662.12,111.6 L663.71,111.6" fill="none" stroke="#111" stroke-width="1.4" stroke-dasharray="2.2 1.7" stroke-linecap="butt"/>
<circle cx="512" cy="17.17" r="1.7" fill="#22b29a" stroke="#222" stroke-width="0.85"/>
<circle cx="512" cy="73.83" r="1.7" fill="#22b29a" stroke="#222" stroke-width="0.85"/>
<circle cx="511.68" cy="103.21" r="1.7" fill="#22b29a" stroke="#222" stroke-width="0.85"/>
<circle cx="512.32" cy="107.4" r="1.7" fill="#22b29a" stroke="#222" stroke-width="0.85"/>
<circle cx="512.96" cy="108.8" r="1.7" fill="#22b29a" stroke="#222" stroke-width="0.85"/>
<circle cx="513.59" cy="110.2" r="1.7" fill="#22b29a" stroke="#222" stroke-width="0.85"/>
<circle cx="515.19" cy="110.9" r="1.7" fill="#22b29a" stroke="#222" stroke-width="0.85"/>
<circle cx="516.79" cy="111.18" r="1.7" fill="#22b29a" stroke="#222" stroke-width="0.85"/>
<circle cx="518.38" cy="111.6" r="1.7" fill="#22b29a" stroke="#222" stroke-width="0.85"/>
<circle cx="519.98" cy="111.6" r="1.7" fill="#22b29a" stroke="#222" stroke-width="0.85"/>
<circle cx="523.18" cy="111.6" r="1.7" fill="#22b29a" stroke="#222" stroke-width="0.85"/>
<circle cx="526.37" cy="111.6" r="1.7" fill="#22b29a" stroke="#222" stroke-width="0.85"/>
<circle cx="529.56" cy="111.6" r="1.7" fill="#22b29a" stroke="#222" stroke-width="0.85"/>
<circle cx="548.73" cy="110.9" r="1.7" fill="#22b29a" stroke="#222" stroke-width="0.85"/>
<circle cx="587.06" cy="111.18" r="1.7" fill="#22b29a" stroke="#222" stroke-width="0.85"/>
<circle cx="625.38" cy="111.04" r="1.7" fill="#22b29a" stroke="#222" stroke-width="0.85"/>
<circle cx="663.71" cy="111.32" r="1.7" fill="#22b29a" stroke="#222" stroke-width="0.85"/>
<line x1="664" y1="111.6" x2="670.6" y2="111.6" stroke="#111" stroke-width="1.3"/>
<text x="231.4" y="175.5" font-size="16.2" text-anchor="start" font-weight="bold" fill="#000">e</text>
<line x1="268.2" y1="185.4" x2="268.2" y2="289.5" stroke="#7a7a7a" stroke-width="1"/>
<line x1="267.7" y1="289.5" x2="443.8" y2="289.5" stroke="#7a7a7a" stroke-width="1"/>
<line x1="264" y1="284.3" x2="268.2" y2="284.3" stroke="#7a7a7a" stroke-width="1"/>
<text x="259.9" y="287.6" font-size="9.3" text-anchor="end">0</text>
<line x1="264" y1="263.3" x2="268.2" y2="263.3" stroke="#7a7a7a" stroke-width="1"/>
<text x="259.9" y="266.6" font-size="9.3" text-anchor="end">10</text>
<line x1="264" y1="242.3" x2="268.2" y2="242.3" stroke="#7a7a7a" stroke-width="1"/>
<text x="259.9" y="245.6" font-size="9.3" text-anchor="end">20</text>
<line x1="264" y1="221.3" x2="268.2" y2="221.3" stroke="#7a7a7a" stroke-width="1"/>
<text x="259.9" y="224.6" font-size="9.3" text-anchor="end">30</text>
<line x1="264" y1="200.3" x2="268.2" y2="200.3" stroke="#7a7a7a" stroke-width="1"/>
<text x="259.9" y="203.6" font-size="9.3" text-anchor="end">40</text>
<line x1="276" y1="289.5" x2="276" y2="293.5" stroke="#7a7a7a" stroke-width="1"/>
<text x="276" y="304.4" font-size="9.3" text-anchor="middle">0</text>
<line x1="309.28" y1="289.5" x2="309.28" y2="293.5" stroke="#7a7a7a" stroke-width="1"/>
<text x="309.28" y="304.4" font-size="9.3" text-anchor="middle">100</text>
<line x1="342.56" y1="289.5" x2="342.56" y2="293.5" stroke="#7a7a7a" stroke-width="1"/>
<text x="342.56" y="304.4" font-size="9.3" text-anchor="middle">200</text>
<line x1="375.84" y1="289.5" x2="375.84" y2="293.5" stroke="#7a7a7a" stroke-width="1"/>
<text x="375.84" y="304.4" font-size="9.3" text-anchor="middle">300</text>
<line x1="409.12" y1="289.5" x2="409.12" y2="293.5" stroke="#7a7a7a" stroke-width="1"/>
<text x="409.12" y="304.4" font-size="9.3" text-anchor="middle">400</text>
<line x1="442.4" y1="289.5" x2="442.4" y2="293.5" stroke="#7a7a7a" stroke-width="1"/>
<text x="442.4" y="304.4" font-size="9.3" text-anchor="middle">500</text>
<text x="355.8" y="319.2" font-size="10.2" text-anchor="middle" textLength="117.5" lengthAdjust="spacingAndGlyphs">Time post-injection (min)</text>
<text x="240.4" y="237.2" font-size="10.2" text-anchor="middle" textLength="92.4" lengthAdjust="spacingAndGlyphs" transform="rotate(-90 240.4 237.2)">Concentration (pM)</text>
<text x="338.4" y="214.5" font-size="8.6" text-anchor="start" textLength="35.4" lengthAdjust="spacingAndGlyphs">Fitted i.p.</text>
<text x="377.5" y="209.9" font-size="5" text-anchor="start" textLength="4.3" lengthAdjust="spacingAndGlyphs">W</text>
<text x="382.5" y="214.5" font-size="8.6" text-anchor="start" textLength="34.2" lengthAdjust="spacingAndGlyphs">rod data</text>
<g transform="translate(392.7 220.6) scale(1.003 1.034)"><path d="M7,3.8 L7,11.1 M7,3.8 L27.4,5 M7,11.1 L27.4,10.6 M15.2,3.7 L15.2,11 M21.6,4.1 L21.6,10.8 M26.3,4.6 L26.3,10.7 M7,3.8 L15.2,10.9 M15.2,3.9 L21.6,10.8 M21.6,4.3 L26.3,10.6 M4.1,7.6 L4.4,0 M4.1,7.6 L0.3,3.5 M4.1,7.6 L0.6,11.7 M4.1,7.6 L4.4,14.9 M4.1,7.6 L7,3.8 M4.1,7.6 L7,11.1 M4.1,7.6 L0,7.6 M4.4,0 L7,3.8 M4.4,14.9 L7,11.1 M7,3.8 L11,1 L15.2,3.9 L18.5,1.6 L21.6,4.3 L25.1,2.4 M25.1,2.4 L26.3,4.6 M7,11.1 L11,14.4 L15.2,10.9 L19,13.7 L21.6,10.8 L26.3,12.9 M26.3,4.6 L30.4,7.6 L26.3,10.7 M27.4,5 L29.2,4.4 M27.4,10.6 L29.2,11.1" fill="none" stroke="#1a1a1a" stroke-width="0.62" stroke-linejoin="round"/><path d="M4.4,0 L25.1,2.4 L29.2,4.4 L30.4,7.6 L29.2,11.1 L26.3,12.9 L4.4,14.9 L0.6,11.7 L0,7.6 L0.3,3.5 Z" fill="none" stroke="#111" stroke-width="0.95" stroke-linejoin="round"/></g>
<polyline points="276,283.25 281.99,282.41 285.48,262.25 288.91,234.32 292.21,191.69 295.7,189.17 315.27,283.25 355.87,283.88 395.81,283.88 435.74,284.3" fill="none" stroke="#efb3b8" stroke-width="2.6" stroke-linejoin="round" stroke-linecap="round"/>
<polyline points="276,283.67 280.99,283.25 285.98,278 290.98,276.95 292.64,274.64 295.97,275.48 305.95,280.1 315.94,282.62 355.87,283.67 395.81,283.88 435.74,284.3" fill="none" stroke="#efb3b8" stroke-width="2.6" stroke-linejoin="round" stroke-linecap="round"/>
<polyline points="276,283.88 282.66,283.67 289.31,281.15 295.97,280.1 315.94,283.25 355.87,284.3 435.74,284.3" fill="none" stroke="#efb3b8" stroke-width="2.6" stroke-linejoin="round" stroke-linecap="round"/>
<polyline points="276,284.3 285.98,283.67 295.97,282.62 315.94,283.88 435.74,284.3" fill="none" stroke="#efb3b8" stroke-width="2.6" stroke-linejoin="round" stroke-linecap="round"/>
<path d="M276.4,281.8 L276.44,280.61 L276.49,279.04 L276.55,277.15 L276.63,274.98 L276.75,272.58 L276.9,270 L277.1,266.99 L277.36,263.46 L277.64,259.7 L277.93,256.01 L278.23,252.68 L278.5,250 L278.75,248.06 L278.99,246.64 L279.23,245.58 L279.47,244.72 L279.72,243.91 L280,243 L280.29,242.05 L280.57,241.2 L280.88,240.4 L281.2,239.6 L281.57,238.75 L282,237.8 L282.5,236.69 L283.06,235.46 L283.66,234.18 L284.28,232.92 L284.9,231.77 L285.5,230.8 L286.08,230.02 L286.67,229.38 L287.25,228.84 L287.83,228.38 L288.42,227.97 L289,227.6 L289.58,227.27 L290.17,226.99 L290.75,226.78 L291.33,226.61 L291.92,226.48 L292.5,226.4 L293.08,226.36 L293.67,226.38 L294.25,226.44 L294.83,226.54 L295.42,226.66 L296,226.8 L296.58,226.94 L297.17,227.09 L297.75,227.26 L298.33,227.48 L298.92,227.75 L299.5,228.1 L300.08,228.53 L300.67,229.04 L301.25,229.6 L301.83,230.21 L302.42,230.85 L303,231.5 L303.58,232.19 L304.17,232.93 L304.75,233.7 L305.33,234.48 L305.92,235.25 L306.5,236 L307.08,236.71 L307.67,237.41 L308.25,238.09 L308.83,238.78 L309.42,239.48 L310,240.2 L310.58,240.94 L311.17,241.68 L311.75,242.44 L312.33,243.21 L312.92,243.99 L313.5,244.8 L314.08,245.63 L314.66,246.49 L315.24,247.36 L315.83,248.24 L316.41,249.12 L317,250 L317.58,250.88 L318.16,251.77 L318.74,252.66 L319.34,253.55 L319.95,254.43 L320.6,255.3 L321.29,256.16 L322.01,257 L322.76,257.84 L323.51,258.67 L324.26,259.49 L325,260.3 L325.72,261.1 L326.44,261.91 L327.16,262.71 L327.87,263.48 L328.58,264.21 L329.3,264.9 L330.02,265.53 L330.73,266.11 L331.44,266.66 L332.16,267.19 L332.88,267.69 L333.6,268.2 L334.33,268.7 L335.06,269.17 L335.79,269.63 L336.53,270.09 L337.27,270.54 L338,271 L338.73,271.47 L339.47,271.94 L340.2,272.42 L340.93,272.89 L341.67,273.35 L342.4,273.8 L343.13,274.24 L343.87,274.69 L344.6,275.12 L345.33,275.54 L346.07,275.93 L346.8,276.3 L347.53,276.63 L348.27,276.93 L349,277.21 L349.73,277.48 L350.47,277.74 L351.2,278 L351.93,278.27 L352.67,278.54 L353.4,278.8 L354.13,279.05 L354.87,279.29 L355.6,279.5 L356.33,279.69 L357.07,279.85 L357.8,279.99 L358.53,280.13 L359.27,280.26 L360,280.4 L360.72,280.54 L361.42,280.67 L362.12,280.8 L362.84,280.93 L363.6,281.06 L364.4,281.2 L365.25,281.35 L366.14,281.5 L367.06,281.66 L368.01,281.81 L368.99,281.96 L370,282.1 L370.96,282.23 L371.87,282.35 L372.81,282.46 L373.86,282.57 L375.09,282.69 L376.6,282.8 L378.36,282.92 L380.32,283.05 L382.46,283.18 L384.79,283.3 L387.31,283.41 L390,283.5 L392.81,283.57 L395.73,283.63 L398.84,283.68 L402.2,283.72 L405.9,283.76 L410,283.8 L415.01,283.84 L420.96,283.88 L427.25,283.92 L433.26,283.95 L438.38,283.98 L442,284" fill="none" stroke="#111" stroke-width="1.4" stroke-dasharray="2.2 1.7" stroke-linecap="butt"/>
<path d="M276.4,283.6 L276.79,283.32 L277.32,282.93 L277.95,282.48 L278.64,281.98 L279.34,281.48 L280,281 L280.63,280.54 L281.27,280.06 L281.91,279.57 L282.58,279.1 L283.27,278.63 L284,278.2 L284.77,277.78 L285.58,277.36 L286.42,276.96 L287.27,276.59 L288.14,276.27 L289,276 L289.87,275.79 L290.77,275.63 L291.67,275.51 L292.57,275.43 L293.45,275.39 L294.3,275.4 L295.11,275.45 L295.9,275.55 L296.67,275.69 L297.43,275.87 L298.21,276.07 L299,276.3 L299.8,276.55 L300.61,276.84 L301.42,277.16 L302.25,277.49 L303.11,277.84 L304,278.2 L304.94,278.58 L305.93,278.99 L306.94,279.41 L307.96,279.83 L308.99,280.23 L310,280.6 L310.98,280.93 L311.93,281.25 L312.88,281.54 L313.85,281.82 L314.88,282.07 L316,282.3 L317.13,282.5 L318.22,282.68 L319.38,282.83 L320.67,282.97 L322.18,283.09 L324,283.2 L325.21,283.3 L325.56,283.37 L326.12,283.44 L328,283.49 L332.26,283.54 L340,283.6 L353.2,283.66 L371.41,283.72 L392,283.78 L412.37,283.83 L429.91,283.87 L442,283.9" fill="none" stroke="#111" stroke-width="1.4" stroke-dasharray="2.2 1.7" stroke-linecap="butt"/>
<path d="M276.4,284 L276.98,283.89 L277.76,283.73 L278.7,283.55 L279.75,283.36 L280.86,283.17 L282,283 L283.19,282.84 L284.49,282.68 L285.85,282.53 L287.24,282.39 L288.64,282.27 L290,282.2 L291.33,282.17 L292.67,282.17 L294,282.2 L295.33,282.25 L296.67,282.32 L298,282.4 L299.26,282.5 L300.44,282.63 L301.62,282.77 L302.89,282.93 L304.32,283.07 L306,283.2 L306.74,283.32 L306.22,283.43 L305.88,283.54 L307.11,283.64 L311.35,283.73 L320,283.8 L335.5,283.86 L357.19,283.9 L381.88,283.94 L406.37,283.96 L427.48,283.98 L442,284" fill="none" stroke="#111" stroke-width="1.4" stroke-dasharray="2.2 1.7" stroke-linecap="butt"/>
<circle cx="292.21" cy="191.69" r="1.7" fill="#efb3b8" stroke="#222" stroke-width="0.85"/>
<circle cx="295.7" cy="189.17" r="1.7" fill="#efb3b8" stroke="#222" stroke-width="0.85"/>
<circle cx="288.91" cy="234.32" r="1.7" fill="#efb3b8" stroke="#222" stroke-width="0.85"/>
<circle cx="285.48" cy="262.25" r="1.7" fill="#efb3b8" stroke="#222" stroke-width="0.85"/>
<circle cx="315.27" cy="282.2" r="1.7" fill="#efb3b8" stroke="#222" stroke-width="0.85"/>
<circle cx="315.94" cy="283.25" r="1.7" fill="#efb3b8" stroke="#222" stroke-width="0.85"/>
<circle cx="292.64" cy="274.64" r="1.7" fill="#efb3b8" stroke="#222" stroke-width="0.85"/>
<circle cx="295.97" cy="275.48" r="1.7" fill="#efb3b8" stroke="#222" stroke-width="0.85"/>
<circle cx="290.98" cy="276.95" r="1.7" fill="#efb3b8" stroke="#222" stroke-width="0.85"/>
<circle cx="285.98" cy="278" r="1.7" fill="#efb3b8" stroke="#222" stroke-width="0.85"/>
<circle cx="287.65" cy="279.05" r="1.7" fill="#efb3b8" stroke="#222" stroke-width="0.85"/>
<circle cx="289.31" cy="281.15" r="1.7" fill="#efb3b8" stroke="#222" stroke-width="0.85"/>
<circle cx="295.97" cy="280.1" r="1.7" fill="#efb3b8" stroke="#222" stroke-width="0.85"/>
<circle cx="276" cy="283.25" r="1.7" fill="#efb3b8" stroke="#222" stroke-width="0.85"/>
<circle cx="277.66" cy="283.67" r="1.7" fill="#efb3b8" stroke="#222" stroke-width="0.85"/>
<circle cx="279.33" cy="283.25" r="1.7" fill="#efb3b8" stroke="#222" stroke-width="0.85"/>
<circle cx="280.99" cy="283.88" r="1.7" fill="#efb3b8" stroke="#222" stroke-width="0.85"/>
<circle cx="282.66" cy="283.67" r="1.7" fill="#efb3b8" stroke="#222" stroke-width="0.85"/>
<circle cx="284.32" cy="283.46" r="1.7" fill="#efb3b8" stroke="#222" stroke-width="0.85"/>
<circle cx="285.98" cy="283.67" r="1.7" fill="#efb3b8" stroke="#222" stroke-width="0.85"/>
<circle cx="289.31" cy="283.25" r="1.7" fill="#efb3b8" stroke="#222" stroke-width="0.85"/>
<circle cx="292.64" cy="283.04" r="1.7" fill="#efb3b8" stroke="#222" stroke-width="0.85"/>
<circle cx="295.97" cy="282.62" r="1.7" fill="#efb3b8" stroke="#222" stroke-width="0.85"/>
<circle cx="279.33" cy="282.2" r="1.7" fill="#efb3b8" stroke="#222" stroke-width="0.85"/>
<circle cx="282.66" cy="282.2" r="1.7" fill="#efb3b8" stroke="#222" stroke-width="0.85"/>
<circle cx="277.66" cy="281.78" r="1.7" fill="#efb3b8" stroke="#222" stroke-width="0.85"/>
<circle cx="355.87" cy="283.88" r="1.7" fill="#efb3b8" stroke="#222" stroke-width="0.85"/>
<circle cx="395.81" cy="283.67" r="1.7" fill="#efb3b8" stroke="#222" stroke-width="0.85"/>
<circle cx="435.74" cy="284.09" r="1.7" fill="#efb3b8" stroke="#222" stroke-width="0.85"/>
<text x="465.9" y="175" font-size="16.2" text-anchor="start" font-weight="bold" fill="#000">f</text>
<line x1="502.5" y1="184.5" x2="502.5" y2="288.6" stroke="#7a7a7a" stroke-width="1"/>
<line x1="502" y1="288.6" x2="678" y2="288.6" stroke="#7a7a7a" stroke-width="1"/>
<line x1="498.3" y1="284.3" x2="502.5" y2="284.3" stroke="#7a7a7a" stroke-width="1"/>
<text x="494.2" y="287.6" font-size="9.3" text-anchor="end">0</text>
<line x1="498.3" y1="272.05" x2="502.5" y2="272.05" stroke="#7a7a7a" stroke-width="1"/>
<text x="494.2" y="275.35" font-size="9.3" text-anchor="end">5</text>
<line x1="498.3" y1="259.8" x2="502.5" y2="259.8" stroke="#7a7a7a" stroke-width="1"/>
<text x="494.2" y="263.1" font-size="9.3" text-anchor="end">10</text>
<line x1="498.3" y1="247.55" x2="502.5" y2="247.55" stroke="#7a7a7a" stroke-width="1"/>
<text x="494.2" y="250.85" font-size="9.3" text-anchor="end">15</text>
<line x1="498.3" y1="235.3" x2="502.5" y2="235.3" stroke="#7a7a7a" stroke-width="1"/>
<text x="494.2" y="238.6" font-size="9.3" text-anchor="end">20</text>
<line x1="498.3" y1="223.05" x2="502.5" y2="223.05" stroke="#7a7a7a" stroke-width="1"/>
<text x="494.2" y="226.35" font-size="9.3" text-anchor="end">25</text>
<line x1="498.3" y1="210.8" x2="502.5" y2="210.8" stroke="#7a7a7a" stroke-width="1"/>
<text x="494.2" y="214.1" font-size="9.3" text-anchor="end">30</text>
<line x1="498.3" y1="198.55" x2="502.5" y2="198.55" stroke="#7a7a7a" stroke-width="1"/>
<text x="494.2" y="201.85" font-size="9.3" text-anchor="end">35</text>
<line x1="498.3" y1="186.3" x2="502.5" y2="186.3" stroke="#7a7a7a" stroke-width="1"/>
<text x="494.2" y="189.6" font-size="9.3" text-anchor="end">40</text>
<line x1="510.8" y1="288.6" x2="510.8" y2="292.6" stroke="#7a7a7a" stroke-width="1"/>
<text x="510.8" y="303.6" font-size="9.3" text-anchor="middle">0</text>
<line x1="544" y1="288.6" x2="544" y2="292.6" stroke="#7a7a7a" stroke-width="1"/>
<text x="544" y="303.6" font-size="9.3" text-anchor="middle">100</text>
<line x1="577.2" y1="288.6" x2="577.2" y2="292.6" stroke="#7a7a7a" stroke-width="1"/>
<text x="577.2" y="303.6" font-size="9.3" text-anchor="middle">200</text>
<line x1="610.4" y1="288.6" x2="610.4" y2="292.6" stroke="#7a7a7a" stroke-width="1"/>
<text x="610.4" y="303.6" font-size="9.3" text-anchor="middle">300</text>
<line x1="643.6" y1="288.6" x2="643.6" y2="292.6" stroke="#7a7a7a" stroke-width="1"/>
<text x="643.6" y="303.6" font-size="9.3" text-anchor="middle">400</text>
<line x1="676.8" y1="288.6" x2="676.8" y2="292.6" stroke="#7a7a7a" stroke-width="1"/>
<text x="676.8" y="303.6" font-size="9.3" text-anchor="middle">500</text>
<text x="590.4" y="318.3" font-size="10.2" text-anchor="middle" textLength="117.5" lengthAdjust="spacingAndGlyphs">Time post-injection (min)</text>
<text x="476.6" y="237.2" font-size="10.2" text-anchor="middle" textLength="92.4" lengthAdjust="spacingAndGlyphs" transform="rotate(-90 476.6 237.2)">Concentration (pM)</text>
<text x="563.4" y="214.7" font-size="8.6" text-anchor="start" textLength="37.2" lengthAdjust="spacingAndGlyphs">Fitted i.p.</text>
<text x="603.7" y="209.6" font-size="5" text-anchor="start" textLength="16.7" lengthAdjust="spacingAndGlyphs">PEG-W</text>
<text x="620.6" y="214.7" font-size="8.6" text-anchor="start" textLength="33.4" lengthAdjust="spacingAndGlyphs">rod data</text>
<g transform="translate(627.7 220.7) scale(0.993 0.993)"><path d="M4.4,0 L25.1,2.4 L29.2,4.4 L30.4,7.6 L29.2,11.1 L26.3,12.9 L4.4,14.9 L0.6,11.7 L0,7.6 L0.3,3.5 Z" fill="#22b29a" stroke="#22b29a" stroke-width="4.6" stroke-linejoin="round"/><g fill="#22b29a"><circle cx="5.38" cy="-2.40" r="1.6"/><circle cx="8.42" cy="-2.05" r="1.6"/><circle cx="11.47" cy="-1.70" r="1.6"/><circle cx="14.51" cy="-1.34" r="1.6"/><circle cx="17.55" cy="-0.99" r="1.6"/><circle cx="20.59" cy="-0.64" r="1.6"/><circle cx="23.63" cy="-0.29" r="1.6"/><circle cx="27.36" cy="0.72" r="1.6"/><circle cx="30.11" cy="2.06" r="1.6"/><circle cx="32.54" cy="6.19" r="1.6"/><circle cx="31.96" cy="10.77" r="1.6"/><circle cx="28.94" cy="14.20" r="1.6"/><circle cx="25.03" cy="15.53" r="1.6"/><circle cx="21.98" cy="15.81" r="1.6"/><circle cx="18.93" cy="16.08" r="1.6"/><circle cx="15.88" cy="16.36" r="1.6"/><circle cx="12.83" cy="16.64" r="1.6"/><circle cx="9.78" cy="16.92" r="1.6"/><circle cx="6.74" cy="17.20" r="1.6"/><circle cx="2.07" cy="16.20" r="1.6"/><circle cx="-0.27" cy="14.23" r="1.6"/><circle cx="-2.18" cy="9.98" r="1.6"/><circle cx="-2.42" cy="6.40" r="1.6"/><circle cx="-2.20" cy="3.35" r="1.6"/><circle cx="0.98" cy="-0.37" r="1.6"/></g><path d="M4.4,0 L25.1,2.4 L29.2,4.4 L30.4,7.6 L29.2,11.1 L26.3,12.9 L4.4,14.9 L0.6,11.7 L0,7.6 L0.3,3.5 Z" fill="#fff"/><path d="M7,3.8 L7,11.1 M7,3.8 L27.4,5 M7,11.1 L27.4,10.6 M15.2,3.7 L15.2,11 M21.6,4.1 L21.6,10.8 M26.3,4.6 L26.3,10.7 M7,3.8 L15.2,10.9 M15.2,3.9 L21.6,10.8 M21.6,4.3 L26.3,10.6 M4.1,7.6 L4.4,0 M4.1,7.6 L0.3,3.5 M4.1,7.6 L0.6,11.7 M4.1,7.6 L4.4,14.9 M4.1,7.6 L7,3.8 M4.1,7.6 L7,11.1 M4.1,7.6 L0,7.6 M4.4,0 L7,3.8 M4.4,14.9 L7,11.1 M7,3.8 L11,1 L15.2,3.9 L18.5,1.6 L21.6,4.3 L25.1,2.4 M25.1,2.4 L26.3,4.6 M7,11.1 L11,14.4 L15.2,10.9 L19,13.7 L21.6,10.8 L26.3,12.9 M26.3,4.6 L30.4,7.6 L26.3,10.7 M27.4,5 L29.2,4.4 M27.4,10.6 L29.2,11.1" fill="none" stroke="#1a1a1a" stroke-width="0.62" stroke-linejoin="round"/><path d="M4.4,0 L25.1,2.4 L29.2,4.4 L30.4,7.6 L29.2,11.1 L26.3,12.9 L4.4,14.9 L0.6,11.7 L0,7.6 L0.3,3.5 Z" fill="none" stroke="#111" stroke-width="0.95" stroke-linejoin="round"/></g>
<polyline points="510.8,279.4 513.19,254.9 517.21,245.84 520.3,230.89 523.71,190.22 527.3,235.3 530.59,215.21 550.64,284.3 590.48,284.3 630.32,284.3 670.16,284.3" fill="none" stroke="#22b29a" stroke-width="2.6" stroke-linejoin="round" stroke-linecap="round"/>
<polyline points="510.8,280.62 512.69,278.42 514.78,273.28 517.61,270.58 520.99,271.56 523.71,262.99 526.07,273.52 530.59,274.01 550.64,283.32 590.48,284.3 670.16,284.3" fill="none" stroke="#22b29a" stroke-width="2.6" stroke-linejoin="round" stroke-linecap="round"/>
<polyline points="510.8,281.85 514.12,280.62 519.1,279.4 524.08,276.95 527.4,274.99 530.72,274.5 550.64,283.56 670.16,284.3" fill="none" stroke="#22b29a" stroke-width="2.6" stroke-linejoin="round" stroke-linecap="round"/>
<polyline points="510.8,283.07 517.44,281.85 524.08,281.36 530.72,280.62 550.64,284.3 670.16,284.3" fill="none" stroke="#22b29a" stroke-width="2.6" stroke-linejoin="round" stroke-linecap="round"/>
<path d="M511.8,283 L511.85,281.62 L511.9,279.75 L511.98,277.52 L512.06,275.06 L512.17,272.51 L512.3,270 L512.46,267.47 L512.64,264.79 L512.85,262.02 L513.07,259.21 L513.29,256.42 L513.5,253.7 L513.71,251 L513.91,248.25 L514.11,245.52 L514.33,242.87 L514.55,240.34 L514.8,238 L515.07,235.83 L515.35,233.8 L515.64,231.89 L515.95,230.1 L516.27,228.44 L516.6,226.9 L516.94,225.48 L517.3,224.2 L517.66,223.04 L518.04,221.99 L518.42,221.05 L518.8,220.2 L519.18,219.46 L519.57,218.82 L519.96,218.29 L520.36,217.86 L520.77,217.53 L521.2,217.3 L521.65,217.18 L522.11,217.17 L522.59,217.26 L523.07,217.44 L523.54,217.69 L524,218 L524.45,218.38 L524.89,218.86 L525.33,219.4 L525.76,220 L526.18,220.64 L526.6,221.3 L527.02,221.99 L527.43,222.74 L527.84,223.52 L528.24,224.33 L528.63,225.16 L529,226 L529.34,226.82 L529.64,227.61 L529.93,228.43 L530.24,229.3 L530.58,230.28 L531,231.4 L531.5,232.71 L532.06,234.17 L532.67,235.74 L533.29,237.35 L533.91,238.96 L534.5,240.5 L535.06,242 L535.62,243.51 L536.17,245.02 L536.71,246.5 L537.26,247.93 L537.8,249.3 L538.34,250.6 L538.86,251.86 L539.39,253.06 L539.91,254.23 L540.45,255.38 L541,256.5 L541.55,257.59 L542.11,258.64 L542.67,259.67 L543.25,260.68 L543.86,261.68 L544.5,262.7 L545.19,263.73 L545.93,264.78 L546.69,265.82 L547.47,266.84 L548.24,267.84 L549,268.8 L549.73,269.72 L550.45,270.62 L551.16,271.49 L551.89,272.33 L552.63,273.13 L553.4,273.9 L554.2,274.63 L555.01,275.33 L555.84,275.99 L556.7,276.63 L557.58,277.23 L558.5,277.8 L559.46,278.34 L560.45,278.86 L561.47,279.34 L562.51,279.8 L563.55,280.22 L564.6,280.6 L565.64,280.95 L566.69,281.25 L567.74,281.53 L568.81,281.77 L569.9,281.99 L571,282.2 L571.96,282.38 L572.73,282.54 L573.52,282.67 L574.53,282.79 L575.96,282.89 L578,283 L580.17,283.11 L582.22,283.2 L584.69,283.29 L588.11,283.37 L593.03,283.44 L600,283.5 L610.42,283.54 L624.15,283.57 L639.38,283.58 L654.3,283.59 L667.11,283.59 L676,283.6" fill="none" stroke="#111" stroke-width="1.4" stroke-dasharray="2.2 1.7" stroke-linecap="butt"/>
<path d="M512,283.6 L512.21,282.98 L512.48,282.11 L512.81,281.08 L513.19,279.99 L513.59,278.93 L514,278 L514.43,277.16 L514.89,276.34 L515.38,275.54 L515.89,274.8 L516.43,274.11 L517,273.5 L517.61,272.97 L518.26,272.49 L518.94,272.08 L519.63,271.73 L520.32,271.44 L521,271.2 L521.67,271.03 L522.33,270.91 L523,270.86 L523.67,270.86 L524.33,270.91 L525,271 L525.66,271.13 L526.3,271.3 L526.94,271.52 L527.59,271.79 L528.28,272.11 L529,272.5 L529.76,272.97 L530.56,273.52 L531.38,274.12 L532.22,274.76 L533.1,275.39 L534,276 L534.92,276.59 L535.85,277.2 L536.81,277.81 L537.81,278.41 L538.87,278.97 L540,279.5 L541.17,279.99 L542.37,280.46 L543.62,280.89 L544.96,281.3 L546.41,281.67 L548,282 L548.56,282.28 L547.85,282.53 L547.25,282.73 L548.15,282.91 L551.94,283.06 L560,283.2 L574.66,283.32 L595.26,283.41 L618.75,283.48 L642.07,283.53 L662.18,283.57 L676,283.6" fill="none" stroke="#111" stroke-width="1.4" stroke-dasharray="2.2 1.7" stroke-linecap="butt"/>
<path d="M512,284 L512.41,283.72 L512.96,283.31 L513.62,282.84 L514.37,282.35 L515.17,281.89 L516,281.5 L516.88,281.17 L517.85,280.86 L518.88,280.58 L519.93,280.34 L520.98,280.14 L522,280 L522.98,279.92 L523.93,279.88 L524.88,279.89 L525.85,279.95 L526.88,280.05 L528,280.2 L529.17,280.41 L530.37,280.7 L531.62,281.02 L532.96,281.37 L534.41,281.7 L536,282 L536.43,282.27 L535.41,282.53 L534.5,282.79 L535.26,283.02 L539.24,283.23 L548,283.4 L564.1,283.53 L586.81,283.62 L612.75,283.69 L638.52,283.73 L660.73,283.77 L676,283.8" fill="none" stroke="#111" stroke-width="1.4" stroke-dasharray="2.2 1.7" stroke-linecap="butt"/>
<circle cx="523.71" cy="190.22" r="1.7" fill="#22b29a" stroke="#222" stroke-width="0.85"/>
<circle cx="530.59" cy="215.21" r="1.7" fill="#22b29a" stroke="#222" stroke-width="0.85"/>
<circle cx="520.3" cy="230.89" r="1.7" fill="#22b29a" stroke="#222" stroke-width="0.85"/>
<circle cx="527.3" cy="235.3" r="1.7" fill="#22b29a" stroke="#222" stroke-width="0.85"/>
<circle cx="517.21" cy="245.84" r="1.7" fill="#22b29a" stroke="#222" stroke-width="0.85"/>
<circle cx="513.19" cy="254.9" r="1.7" fill="#22b29a" stroke="#222" stroke-width="0.85"/>
<circle cx="523.71" cy="262.99" r="1.7" fill="#22b29a" stroke="#222" stroke-width="0.85"/>
<circle cx="517.61" cy="270.58" r="1.7" fill="#22b29a" stroke="#222" stroke-width="0.85"/>
<circle cx="520.99" cy="271.56" r="1.7" fill="#22b29a" stroke="#222" stroke-width="0.85"/>
<circle cx="526.07" cy="273.52" r="1.7" fill="#22b29a" stroke="#222" stroke-width="0.85"/>
<circle cx="530.59" cy="274.01" r="1.7" fill="#22b29a" stroke="#222" stroke-width="0.85"/>
<circle cx="512.69" cy="278.42" r="1.7" fill="#22b29a" stroke="#222" stroke-width="0.85"/>
<circle cx="514.78" cy="273.28" r="1.7" fill="#22b29a" stroke="#222" stroke-width="0.85"/>
<circle cx="512.46" cy="278.18" r="1.7" fill="#22b29a" stroke="#222" stroke-width="0.85"/>
<circle cx="514.12" cy="276.95" r="1.7" fill="#22b29a" stroke="#222" stroke-width="0.85"/>
<circle cx="550.64" cy="284.3" r="1.7" fill="#22b29a" stroke="#222" stroke-width="0.85"/>
<circle cx="510.8" cy="279.4" r="1.7" fill="#22b29a" stroke="#222" stroke-width="0.85"/>
<circle cx="510.8" cy="281.85" r="1.7" fill="#22b29a" stroke="#222" stroke-width="0.85"/>
<circle cx="512.46" cy="281.85" r="1.7" fill="#22b29a" stroke="#222" stroke-width="0.85"/>
<circle cx="514.12" cy="280.62" r="1.7" fill="#22b29a" stroke="#222" stroke-width="0.85"/>
<circle cx="517.44" cy="281.36" r="1.7" fill="#22b29a" stroke="#222" stroke-width="0.85"/>
<circle cx="519.1" cy="279.4" r="1.7" fill="#22b29a" stroke="#222" stroke-width="0.85"/>
<circle cx="520.76" cy="281.85" r="1.7" fill="#22b29a" stroke="#222" stroke-width="0.85"/>
<circle cx="522.42" cy="278.18" r="1.7" fill="#22b29a" stroke="#222" stroke-width="0.85"/>
<circle cx="524.08" cy="276.95" r="1.7" fill="#22b29a" stroke="#222" stroke-width="0.85"/>
<circle cx="527.4" cy="274.99" r="1.7" fill="#22b29a" stroke="#222" stroke-width="0.85"/>
<circle cx="530.72" cy="274.5" r="1.7" fill="#22b29a" stroke="#222" stroke-width="0.85"/>
<circle cx="524.08" cy="281.85" r="1.7" fill="#22b29a" stroke="#222" stroke-width="0.85"/>
<circle cx="527.4" cy="283.07" r="1.7" fill="#22b29a" stroke="#222" stroke-width="0.85"/>
<circle cx="530.72" cy="280.62" r="1.7" fill="#22b29a" stroke="#222" stroke-width="0.85"/>
<circle cx="520.76" cy="283.07" r="1.7" fill="#22b29a" stroke="#222" stroke-width="0.85"/>
<circle cx="517.44" cy="283.56" r="1.7" fill="#22b29a" stroke="#222" stroke-width="0.85"/>
<circle cx="590.48" cy="283.81" r="1.7" fill="#22b29a" stroke="#222" stroke-width="0.85"/>
<circle cx="630.32" cy="283.81" r="1.7" fill="#22b29a" stroke="#222" stroke-width="0.85"/>
<circle cx="670.16" cy="284.06" r="1.7" fill="#22b29a" stroke="#222" stroke-width="0.85"/>
<text x="-0.3" y="347.6" font-size="16.2" text-anchor="start" font-weight="bold" fill="#000">g</text>
<line x1="48.2" y1="367.4" x2="48.2" y2="468.4" stroke="#7a7a7a" stroke-width="1"/>
<line x1="47.7" y1="468.4" x2="200.4" y2="468.4" stroke="#7a7a7a" stroke-width="1"/>
<line x1="199.9" y1="367.4" x2="199.9" y2="468.4" stroke="#7a7a7a" stroke-width="1"/>
<line x1="44" y1="463.5" x2="48.2" y2="463.5" stroke="#7a7a7a" stroke-width="1"/>
<text x="40.5" y="466.8" font-size="9.3" text-anchor="end">0</text>
<line x1="44" y1="443.52" x2="48.2" y2="443.52" stroke="#7a7a7a" stroke-width="1"/>
<text x="40.5" y="446.82" font-size="9.3" text-anchor="end">20</text>
<line x1="44" y1="423.54" x2="48.2" y2="423.54" stroke="#7a7a7a" stroke-width="1"/>
<text x="40.5" y="426.84" font-size="9.3" text-anchor="end">40</text>
<line x1="44" y1="403.56" x2="48.2" y2="403.56" stroke="#7a7a7a" stroke-width="1"/>
<text x="40.5" y="406.86" font-size="9.3" text-anchor="end">60</text>
<line x1="44" y1="383.58" x2="48.2" y2="383.58" stroke="#7a7a7a" stroke-width="1"/>
<text x="40.5" y="386.88" font-size="9.3" text-anchor="end">80</text>
<line x1="199.9" y1="463.3" x2="204.1" y2="463.3" stroke="#7a7a7a" stroke-width="1"/>
<text x="207.8" y="466.6" font-size="9.3" text-anchor="start">0</text>
<line x1="199.9" y1="442.4" x2="204.1" y2="442.4" stroke="#7a7a7a" stroke-width="1"/>
<text x="207.8" y="445.7" font-size="9.3" text-anchor="start">1</text>
<line x1="199.9" y1="421.5" x2="204.1" y2="421.5" stroke="#7a7a7a" stroke-width="1"/>
<text x="207.8" y="424.8" font-size="9.3" text-anchor="start">2</text>
<line x1="199.9" y1="400.6" x2="204.1" y2="400.6" stroke="#7a7a7a" stroke-width="1"/>
<text x="207.8" y="403.9" font-size="9.3" text-anchor="start">3</text>
<line x1="199.9" y1="379.7" x2="204.1" y2="379.7" stroke="#7a7a7a" stroke-width="1"/>
<text x="207.8" y="383" font-size="9.3" text-anchor="start">4</text>
<line x1="55.1" y1="468.4" x2="55.1" y2="472.4" stroke="#7a7a7a" stroke-width="1"/>
<text x="55.1" y="482.6" font-size="9.3" text-anchor="middle">0</text>
<line x1="82.62" y1="468.4" x2="82.62" y2="472.4" stroke="#7a7a7a" stroke-width="1"/>
<text x="82.62" y="482.6" font-size="9.3" text-anchor="middle">100</text>
<line x1="110.14" y1="468.4" x2="110.14" y2="472.4" stroke="#7a7a7a" stroke-width="1"/>
<text x="110.14" y="482.6" font-size="9.3" text-anchor="middle">200</text>
<line x1="137.66" y1="468.4" x2="137.66" y2="472.4" stroke="#7a7a7a" stroke-width="1"/>
<text x="137.66" y="482.6" font-size="9.3" text-anchor="middle">300</text>
<line x1="165.18" y1="468.4" x2="165.18" y2="472.4" stroke="#7a7a7a" stroke-width="1"/>
<text x="165.18" y="482.6" font-size="9.3" text-anchor="middle">400</text>
<line x1="192.7" y1="468.4" x2="192.7" y2="472.4" stroke="#7a7a7a" stroke-width="1"/>
<text x="192.7" y="482.6" font-size="9.3" text-anchor="middle">500</text>
<text x="124.2" y="499" font-size="10.2" text-anchor="middle" textLength="117.7" lengthAdjust="spacingAndGlyphs">Time post-injection (min)</text>
<text x="9.9" y="417.5" font-size="10.2" text-anchor="middle" textLength="54" lengthAdjust="spacingAndGlyphs" transform="rotate(-90 9.9 417.5)">Peritoneum</text>
<text x="20.8" y="417.5" font-size="10.2" text-anchor="middle" textLength="90" lengthAdjust="spacingAndGlyphs" transform="rotate(-90 20.8 417.5)">concentration (pM)</text>
<text x="219.2" y="416.5" font-size="10.2" text-anchor="middle" textLength="120.5" lengthAdjust="spacingAndGlyphs" transform="rotate(90 219.2 416.5)">Blood concentration (pM)</text>
<path d="M55.10,463.30 L55.24,463.30 L55.38,463.30 L55.51,463.30 L55.65,463.30 L55.79,463.30 L55.93,463.30 L56.06,463.30 L56.20,463.30 L56.34,463.30 L56.48,463.30 L56.61,463.30 L56.75,463.30 L56.89,463.30 L57.03,463.30 L57.16,463.30 L57.30,463.30 L57.44,463.30 L57.58,463.30 L57.71,463.30 L57.85,463.30 L57.99,463.30 L58.13,463.30 L58.26,463.30 L58.40,463.30 L58.54,463.30 L58.68,463.30 L58.82,463.30 L58.95,463.30 L59.09,463.30 L59.23,463.30 L59.37,463.30 L59.50,463.30 L59.64,463.30 L59.78,463.30 L59.92,463.30 L60.05,463.30 L60.19,463.30 L60.33,463.30 L60.47,463.30 L60.60,463.30 L60.74,463.30 L60.88,463.30 L61.02,463.30 L61.15,463.30 L61.29,463.30 L61.43,463.30 L61.57,463.30 L61.70,463.30 L61.84,463.30 L61.98,463.30 L62.12,463.30 L62.26,463.30 L62.39,463.30 L62.53,463.30 L62.67,463.30 L62.81,463.30 L62.94,463.30 L63.08,463.30 L63.22,463.30 L63.36,463.30 L63.36,463.30 L63.48,456.45 L63.62,449.65 L63.76,443.64 L63.89,438.33 L64.03,433.66 L64.17,429.56 L64.31,425.98 L64.44,422.86 L64.58,420.16 L64.72,417.84 L64.86,415.85 L64.99,414.16 L65.13,412.75 L65.27,411.58 L65.41,410.63 L65.54,409.88 L65.68,409.30 L65.82,408.88 L65.96,408.60 L66.09,408.44 L66.23,408.40 L66.37,408.45 L66.51,408.59 L66.64,408.81 L66.78,409.10 L66.92,409.45 L67.06,409.85 L67.20,410.30 L67.33,410.78 L67.47,411.31 L67.61,411.86 L67.75,412.44 L67.88,413.04 L68.02,413.66 L68.16,414.30 L68.30,414.94 L68.43,415.60 L68.57,416.27 L68.71,416.94 L68.85,417.62 L68.98,418.29 L69.12,418.97 L69.26,419.65 L69.40,420.33 L69.53,421.01 L69.67,421.68 L69.81,422.35 L69.95,423.01 L70.08,423.67 L70.22,424.32 L70.36,424.96 L70.50,425.60 L70.64,426.24 L70.77,426.86 L70.91,427.48 L71.05,428.09 L71.19,428.69 L71.32,429.28 L71.46,429.87 L71.60,430.44 L71.61,430.50 L71.61,430.50 L71.72,424.83 L71.86,418.51 L72.00,412.97 L72.13,408.14 L72.27,403.95 L72.41,400.32 L72.55,397.21 L72.69,394.56 L72.82,392.32 L72.96,390.45 L73.10,388.92 L73.24,387.68 L73.37,386.72 L73.51,385.99 L73.65,385.47 L73.79,385.14 L73.92,384.99 L74.06,384.98 L74.20,385.11 L74.34,385.36 L74.47,385.72 L74.61,386.16 L74.75,386.69 L74.89,387.29 L75.02,387.96 L75.16,388.67 L75.30,389.44 L75.44,390.24 L75.57,391.08 L75.71,391.95 L75.85,392.85 L75.99,393.76 L76.13,394.69 L76.26,395.64 L76.40,396.59 L76.54,397.55 L76.68,398.52 L76.81,399.49 L76.95,400.46 L77.09,401.43 L77.23,402.39 L77.36,403.35 L77.50,404.31 L77.64,405.26 L77.78,406.20 L77.91,407.14 L78.05,408.07 L78.19,408.98 L78.33,409.89 L78.46,410.79 L78.60,411.67 L78.74,412.55 L78.88,413.41 L79.01,414.27 L79.15,415.11 L79.29,415.94 L79.43,416.76 L79.57,417.56 L79.70,418.36 L79.84,419.14 L79.87,419.29 L79.87,419.29 L79.96,414.44 L80.10,408.23 L80.24,402.82 L80.38,398.11 L80.51,394.04 L80.65,390.55 L80.79,387.57 L80.93,385.05 L81.07,382.95 L81.20,381.21 L81.34,379.82 L81.48,378.72 L81.62,377.89 L81.75,377.29 L81.89,376.91 L82.03,376.72 L82.17,376.70 L82.30,376.83 L82.44,377.09 L82.58,377.47 L82.72,377.96 L82.85,378.54 L82.99,379.19 L83.13,379.92 L83.27,380.71 L83.40,381.55 L83.54,382.43 L83.68,383.36 L83.82,384.32 L83.95,385.30 L84.09,386.31 L84.23,387.34 L84.37,388.38 L84.51,389.44 L84.64,390.50 L84.78,391.57 L84.92,392.64 L85.06,393.71 L85.19,394.78 L85.33,395.85 L85.47,396.91 L85.61,397.97 L85.74,399.02 L85.88,400.06 L86.02,401.10 L86.16,402.13 L86.29,403.14 L86.43,404.15 L86.57,405.14 L86.71,406.12 L86.84,407.09 L86.98,408.05 L87.12,408.99 L87.26,409.92 L87.39,410.84 L87.53,411.75 L87.67,412.64 L87.81,413.52 L87.95,414.38 L88.08,415.24 L88.12,415.49 L88.12,415.49 L88.21,411.34 L88.34,405.12 L88.48,399.70 L88.62,394.99 L88.76,390.92 L88.89,387.44 L89.03,384.47 L89.17,381.97 L89.31,379.88 L89.44,378.17 L89.58,376.80 L89.72,375.73 L89.86,374.93 L90.00,374.37 L90.13,374.02 L90.27,373.86 L90.41,373.88 L90.55,374.04 L90.68,374.34 L90.82,374.76 L90.96,375.28 L91.10,375.90 L91.23,376.59 L91.37,377.36 L91.51,378.18 L91.65,379.06 L91.78,379.99 L91.92,380.95 L92.06,381.95 L92.20,382.97 L92.33,384.02 L92.47,385.08 L92.61,386.16 L92.75,387.25 L92.88,388.35 L93.02,389.46 L93.16,390.56 L93.30,391.67 L93.44,392.78 L93.57,393.88 L93.71,394.98 L93.85,396.07 L93.99,397.15 L94.12,398.23 L94.26,399.29 L94.40,400.35 L94.54,401.40 L94.67,402.43 L94.81,403.46 L94.95,404.47 L95.09,405.47 L95.22,406.45 L95.36,407.42 L95.50,408.38 L95.64,409.33 L95.77,410.26 L95.91,411.18 L96.05,412.08 L96.19,412.98 L96.32,413.85 L96.38,414.20 L96.38,414.20 L96.45,410.73 L96.59,404.45 L96.72,398.98 L96.86,394.22 L97.00,390.11 L97.14,386.59 L97.27,383.60 L97.41,381.07 L97.55,378.97 L97.69,377.24 L97.82,375.86 L97.96,374.78 L98.10,373.97 L98.24,373.40 L98.38,373.05 L98.51,372.90 L98.65,372.91 L98.79,373.08 L98.93,373.38 L99.06,373.81 L99.20,374.33 L99.34,374.96 L99.48,375.66 L99.61,376.43 L99.75,377.27 L99.89,378.16 L100.03,379.09 L100.16,380.07 L100.30,381.07 L100.44,382.11 L100.58,383.17 L100.71,384.24 L100.85,385.34 L100.99,386.44 L101.13,387.55 L101.26,388.67 L101.40,389.78 L101.54,390.90 L101.68,392.02 L101.82,393.13 L101.95,394.24 L102.09,395.35 L102.23,396.44 L102.37,397.53 L102.50,398.61 L102.64,399.68 L102.78,400.74 L102.92,401.78 L103.05,402.82 L103.19,403.84 L103.33,404.85 L103.47,405.84 L103.60,406.83 L103.74,407.80 L103.88,408.75 L104.02,409.69 L104.15,410.62 L104.29,411.54 L104.43,412.44 L104.57,413.32 L104.64,413.76 L104.64,413.76 L104.69,410.97 L104.83,404.62 L104.97,399.07 L105.10,394.25 L105.24,390.09 L105.38,386.52 L105.52,383.48 L105.65,380.92 L105.79,378.78 L105.93,377.03 L106.07,375.62 L106.20,374.51 L106.34,373.69 L106.48,373.10 L106.62,372.74 L106.76,372.57 L106.89,372.58 L107.03,372.74 L107.17,373.03 L107.31,373.45 L107.44,373.97 L107.58,374.59 L107.72,375.29 L107.86,376.07 L107.99,376.90 L108.13,377.79 L108.27,378.73 L108.41,379.70 L108.54,380.71 L108.68,381.75 L108.82,382.81 L108.96,383.89 L109.09,384.98 L109.23,386.09 L109.37,387.20 L109.51,388.32 L109.64,389.44 L109.78,390.57 L109.92,391.69 L110.06,392.81 L110.20,393.92 L110.33,395.03 L110.47,396.13 L110.61,397.22 L110.75,398.31 L110.88,399.38 L111.02,400.44 L111.16,401.49 L111.30,402.53 L111.43,403.56 L111.57,404.57 L111.71,405.57 L111.85,406.56 L111.98,407.53 L112.12,408.49 L112.26,409.44 L112.40,410.37 L112.53,411.29 L112.67,412.20 L112.81,413.09 L112.89,413.61 L112.89,413.61 L112.93,411.51 L113.07,405.07 L113.21,399.45 L113.35,394.57 L113.48,390.34 L113.62,386.72 L113.76,383.63 L113.90,381.03 L114.03,378.85 L114.17,377.06 L114.31,375.62 L114.45,374.49 L114.58,373.64 L114.72,373.03 L114.86,372.65 L115.00,372.47 L115.13,372.46 L115.27,372.61 L115.41,372.89 L115.55,373.30 L115.69,373.81 L115.82,374.43 L115.96,375.12 L116.10,375.89 L116.24,376.72 L116.37,377.60 L116.51,378.54 L116.65,379.51 L116.79,380.52 L116.92,381.56 L117.06,382.62 L117.20,383.69 L117.34,384.79 L117.47,385.90 L117.61,387.01 L117.75,388.13 L117.89,389.25 L118.02,390.38 L118.16,391.50 L118.30,392.62 L118.44,393.74 L118.57,394.85 L118.71,395.95 L118.85,397.05 L118.99,398.13 L119.13,399.21 L119.26,400.27 L119.40,401.32 L119.54,402.36 L119.68,403.39 L119.81,404.41 L119.95,405.41 L120.09,406.40 L120.23,407.38 L120.36,408.34 L120.50,409.29 L120.64,410.23 L120.78,411.15 L120.91,412.05 L121.05,412.95 L121.15,413.56 L121.15,413.56 L121.18,412.15 L121.31,405.63 L121.45,399.93 L121.59,394.98 L121.73,390.69 L121.86,387.01 L122.00,383.87 L122.14,381.22 L122.28,379.01 L122.41,377.18 L122.55,375.71 L122.69,374.55 L122.83,373.67 L122.96,373.05 L123.10,372.64 L123.24,372.44 L123.38,372.41 L123.51,372.55 L123.65,372.82 L123.79,373.22 L123.93,373.72 L124.07,374.33 L124.20,375.01 L124.34,375.77 L124.48,376.60 L124.62,377.48 L124.75,378.41 L124.89,379.38 L125.03,380.39 L125.17,381.42 L125.30,382.48 L125.44,383.56 L125.58,384.65 L125.72,385.76 L125.85,386.87 L125.99,387.99 L126.13,389.12 L126.27,390.24 L126.40,391.37 L126.54,392.49 L126.68,393.60 L126.82,394.71 L126.95,395.82 L127.09,396.91 L127.23,398.00 L127.37,399.08 L127.51,400.14 L127.64,401.20 L127.78,402.24 L127.92,403.27 L128.06,404.29 L128.19,405.29 L128.33,406.28 L128.47,407.26 L128.61,408.23 L128.74,409.18 L128.88,410.11 L129.02,411.04 L129.16,411.95 L129.29,412.84 L129.40,413.55 L129.40,413.55 L129.42,412.84 L129.56,406.22 L129.69,400.45 L129.83,395.42 L129.97,391.08 L130.11,387.34 L130.24,384.15 L130.38,381.45 L130.52,379.19 L130.66,377.33 L130.79,375.83 L130.93,374.64 L131.07,373.73 L131.21,373.08 L131.34,372.66 L131.48,372.44 L131.62,372.40 L131.76,372.51 L131.89,372.77 L132.03,373.16 L132.17,373.66 L132.31,374.25 L132.44,374.93 L132.58,375.68 L132.72,376.50 L132.86,377.38 L133.00,378.31 L133.13,379.27 L133.27,380.27 L133.41,381.31 L133.55,382.36 L133.68,383.44 L133.82,384.53 L133.96,385.64 L134.10,386.75 L134.23,387.87 L134.37,388.99 L134.51,390.12 L134.65,391.24 L134.78,392.37 L134.92,393.48 L135.06,394.59 L135.20,395.70 L135.33,396.80 L135.47,397.88 L135.61,398.96 L135.75,400.03 L135.88,401.08 L136.02,402.13 L136.16,403.16 L136.30,404.18 L136.44,405.19 L136.57,406.18 L136.71,407.16 L136.85,408.12 L136.99,409.08 L137.12,410.01 L137.26,410.94 L137.40,411.85 L137.54,412.75 L137.66,413.54 L137.66,413.54 L137.80,406.84 L137.94,400.98 L138.07,395.89 L138.21,391.48 L138.35,387.68 L138.49,384.44 L138.62,381.70 L138.76,379.40 L138.90,377.50 L139.04,375.96 L139.17,374.74 L139.31,373.81 L139.45,373.13 L139.59,372.69 L139.72,372.45 L139.86,372.39 L140.00,372.49 L140.14,372.74 L140.27,373.11 L140.41,373.60 L140.55,374.18 L140.69,374.85 L140.82,375.60 L140.96,376.42 L141.10,377.29 L141.24,378.21 L141.38,379.17 L141.51,380.17 L141.65,381.20 L141.79,382.25 L141.93,383.33 L142.06,384.42 L142.20,385.52 L142.34,386.64 L142.48,387.76 L142.61,388.88 L142.75,390.00 L142.89,391.13 L143.03,392.25 L143.16,393.37 L143.30,394.48 L143.44,395.59 L143.58,396.68 L143.71,397.77 L143.85,398.85 L143.99,399.92 L144.13,400.98 L144.26,402.02 L144.40,403.06 L144.54,404.08 L144.68,405.08 L144.82,406.08 L144.95,407.06 L145.09,408.03 L145.23,408.98 L145.37,409.92 L145.50,410.85 L145.64,411.76 L145.78,412.66 L145.92,413.54 L145.92,413.54 L146.04,407.47 L146.18,401.53 L146.32,396.36 L146.45,391.89 L146.59,388.03 L146.73,384.74 L146.87,381.95 L147.00,379.61 L147.14,377.67 L147.28,376.10 L147.42,374.85 L147.55,373.89 L147.69,373.19 L147.83,372.72 L147.97,372.46 L148.10,372.39 L148.24,372.47 L148.38,372.71 L148.52,373.07 L148.65,373.54 L148.79,374.12 L148.93,374.78 L149.07,375.52 L149.20,376.33 L149.34,377.20 L149.48,378.11 L149.62,379.07 L149.76,380.07 L149.89,381.09 L150.03,382.14 L150.17,383.22 L150.31,384.31 L150.44,385.41 L150.58,386.52 L150.72,387.64 L150.86,388.77 L150.99,389.89 L151.13,391.02 L151.27,392.14 L151.41,393.26 L151.54,394.37 L151.68,395.48 L151.82,396.57 L151.96,397.66 L152.09,398.74 L152.23,399.81 L152.37,400.87 L152.51,401.92 L152.64,402.95 L152.78,403.97 L152.92,404.98 L153.06,405.98 L153.20,406.96 L153.33,407.93 L153.47,408.88 L153.61,409.83 L153.75,410.75 L153.88,411.67 L154.02,412.57 L154.16,413.45 L154.17,413.54 L154.17,413.54 L154.28,408.11 L154.42,402.09 L154.56,396.85 L154.69,392.31 L154.83,388.39 L154.97,385.04 L155.11,382.20 L155.25,379.82 L155.38,377.85 L155.52,376.24 L155.66,374.96 L155.80,373.97 L155.93,373.25 L156.07,372.76 L156.21,372.48 L156.35,372.39 L156.48,372.46 L156.62,372.68 L156.76,373.03 L156.90,373.49 L157.03,374.06 L157.17,374.71 L157.31,375.45 L157.45,376.25 L157.58,377.11 L157.72,378.02 L157.86,378.97 L158.00,379.96 L158.13,380.99 L158.27,382.04 L158.41,383.11 L158.55,384.20 L158.69,385.30 L158.82,386.41 L158.96,387.53 L159.10,388.65 L159.24,389.78 L159.37,390.90 L159.51,392.03 L159.65,393.14 L159.79,394.26 L159.92,395.37 L160.06,396.46 L160.20,397.55 L160.34,398.64 L160.47,399.71 L160.61,400.77 L160.75,401.81 L160.89,402.85 L161.02,403.87 L161.16,404.88 L161.30,405.88 L161.44,406.86 L161.57,407.83 L161.71,408.79 L161.85,409.73 L161.99,410.66 L162.13,411.58 L162.26,412.48 L162.40,413.36 L162.43,413.54 L162.43,413.54 L162.52,408.75 L162.66,402.65 L162.80,397.34 L162.94,392.73 L163.07,388.76 L163.21,385.36 L163.35,382.47 L163.49,380.04 L163.63,378.03 L163.76,376.38 L163.90,375.07 L164.04,374.06 L164.18,373.31 L164.31,372.80 L164.45,372.50 L164.59,372.39 L164.73,372.44 L164.86,372.65 L165.00,372.99 L165.14,373.44 L165.28,374.00 L165.41,374.64 L165.55,375.37 L165.69,376.16 L165.83,377.02 L165.96,377.92 L166.10,378.88 L166.24,379.86 L166.38,380.88 L166.51,381.93 L166.65,383.00 L166.79,384.09 L166.93,385.19 L167.07,386.30 L167.20,387.42 L167.34,388.54 L167.48,389.67 L167.62,390.79 L167.75,391.91 L167.89,393.03 L168.03,394.15 L168.17,395.25 L168.30,396.35 L168.44,397.45 L168.58,398.53 L168.72,399.60 L168.85,400.66 L168.99,401.71 L169.13,402.75 L169.27,403.77 L169.40,404.78 L169.54,405.78 L169.68,406.77 L169.82,407.74 L169.95,408.69 L170.09,409.64 L170.23,410.57 L170.37,411.48 L170.51,412.39 L170.64,413.27 L170.68,413.54 L170.68,413.54 L170.77,409.41 L170.90,403.23 L171.04,397.84 L171.18,393.16 L171.32,389.13 L171.45,385.67 L171.59,382.73 L171.73,380.26 L171.87,378.21 L172.00,376.53 L172.14,375.19 L172.28,374.15 L172.42,373.37 L172.56,372.84 L172.69,372.52 L172.83,372.39 L172.97,372.43 L173.11,372.62 L173.24,372.95 L173.38,373.39 L173.52,373.94 L173.66,374.57 L173.79,375.29 L173.93,376.08 L174.07,376.93 L174.21,377.83 L174.34,378.78 L174.48,379.76 L174.62,380.78 L174.76,381.83 L174.89,382.89 L175.03,383.98 L175.17,385.08 L175.31,386.19 L175.44,387.31 L175.58,388.43 L175.72,389.55 L175.86,390.68 L176.00,391.80 L176.13,392.92 L176.27,394.04 L176.41,395.14 L176.55,396.25 L176.68,397.34 L176.82,398.42 L176.96,399.49 L177.10,400.55 L177.23,401.60 L177.37,402.64 L177.51,403.67 L177.65,404.68 L177.78,405.68 L177.92,406.67 L178.06,407.64 L178.20,408.60 L178.33,409.54 L178.47,410.48 L178.61,411.39 L178.75,412.30 L178.88,413.19 L178.94,413.54 L178.94,413.54 L179.01,410.08 L179.15,403.81 L179.28,398.34 L179.42,393.60 L179.56,389.50 L179.70,385.99 L179.83,383.01 L179.97,380.49 L180.11,378.40 L180.25,376.68 L180.38,375.31 L180.52,374.24 L180.66,373.44 L180.80,372.88 L180.94,372.54 L181.07,372.39 L181.21,372.42 L181.35,372.60 L181.49,372.91 L181.62,373.34 L181.76,373.88 L181.90,374.51 L182.04,375.22 L182.17,376.00 L182.31,376.84 L182.45,377.74 L182.59,378.68 L182.72,379.66 L182.86,380.68 L183.00,381.72 L183.14,382.79 L183.27,383.87 L183.41,384.97 L183.55,386.08 L183.69,387.19 L183.82,388.32 L183.96,389.44 L184.10,390.57 L184.24,391.69 L184.38,392.81 L184.51,393.92 L184.65,395.03 L184.79,396.14 L184.93,397.23 L185.06,398.31 L185.20,399.39 L185.34,400.45 L185.48,401.50 L185.61,402.54 L185.75,403.57 L185.89,404.58 L186.03,405.58 L186.16,406.57 L186.30,407.54 L186.44,408.50 L186.58,409.45 L186.71,410.38 L186.85,411.30 L186.99,412.21 L187.13,413.10 L187.20,413.54 L187.20,413.54 L187.25,410.75 L187.39,404.40 L187.53,398.86 L187.66,394.04 L187.80,389.89 L187.94,386.32 L188.08,383.28 L188.21,380.72 L188.35,378.59 L188.49,376.84 L188.63,375.43 L188.76,374.33 L188.90,373.51 L189.04,372.93 L189.18,372.57 L189.32,372.40 L189.45,372.41 L189.59,372.57 L189.73,372.87 L189.87,373.29 L190.00,373.82 L190.14,374.44 L190.28,375.14 L190.42,375.92 L190.55,376.76 L190.69,377.65 L190.83,378.59 L190.97,379.56 L191.10,380.58 L191.24,381.62 L191.38,382.68 L191.52,383.76 L191.65,384.86 L191.79,385.97 L191.93,387.08 L192.07,388.20 L192.20,389.33 L192.34,390.45 L192.48,391.58 L192.62,392.70" fill="none" stroke="#7d9be3" stroke-width="2.8" stroke-linejoin="round"/>
<path d="M55.10,463.50 L55.24,463.50 L55.38,463.50 L55.51,463.50 L55.65,463.50 L55.79,463.50 L55.93,463.50 L56.06,463.50 L56.20,463.50 L56.34,463.50 L56.48,463.50 L56.61,463.50 L56.75,463.50 L56.89,463.50 L57.03,463.50 L57.16,463.50 L57.30,463.50 L57.44,463.50 L57.58,463.50 L57.71,463.50 L57.85,463.50 L57.99,463.50 L58.13,463.50 L58.26,463.50 L58.40,463.50 L58.54,463.50 L58.68,463.50 L58.82,463.50 L58.95,463.50 L59.09,463.50 L59.23,463.50 L59.37,463.50 L59.50,463.50 L59.64,463.50 L59.78,463.50 L59.92,463.50 L60.05,463.50 L60.19,463.50 L60.33,463.50 L60.47,463.50 L60.60,463.50 L60.74,463.50 L60.88,463.50 L61.02,463.50 L61.15,463.50 L61.29,463.50 L61.43,463.50 L61.57,463.50 L61.70,463.50 L61.84,463.50 L61.98,463.50 L62.12,463.50 L62.26,463.50 L62.39,463.50 L62.53,463.50 L62.67,463.50 L62.81,463.50 L62.94,463.50 L63.08,463.50 L63.22,463.50 L63.36,463.50 L63.36,403.56 L63.48,404.52 L63.62,405.58 L63.76,406.61 L63.89,407.63 L64.03,408.62 L64.17,409.60 L64.31,410.57 L64.44,411.51 L64.58,412.44 L64.72,413.35 L64.86,414.25 L64.99,415.13 L65.13,415.99 L65.27,416.84 L65.41,417.67 L65.54,418.49 L65.68,419.29 L65.82,420.08 L65.96,420.86 L66.09,421.62 L66.23,422.37 L66.37,423.10 L66.51,423.82 L66.64,424.53 L66.78,425.23 L66.92,425.91 L67.06,426.58 L67.20,427.24 L67.33,427.89 L67.47,428.52 L67.61,429.15 L67.75,429.76 L67.88,430.36 L68.02,430.96 L68.16,431.54 L68.30,432.11 L68.43,432.67 L68.57,433.22 L68.71,433.76 L68.85,434.29 L68.98,434.81 L69.12,435.32 L69.26,435.83 L69.40,436.32 L69.53,436.81 L69.67,437.28 L69.81,437.75 L69.95,438.21 L70.08,438.66 L70.22,439.11 L70.36,439.54 L70.50,439.97 L70.64,440.39 L70.77,440.80 L70.91,441.21 L71.05,441.61 L71.19,442.00 L71.32,442.38 L71.46,442.76 L71.60,443.13 L71.61,443.16 L71.61,383.22 L71.72,384.37 L71.86,385.79 L72.00,387.17 L72.13,388.54 L72.27,389.87 L72.41,391.19 L72.55,392.48 L72.69,393.75 L72.82,394.99 L72.96,396.22 L73.10,397.42 L73.24,398.60 L73.37,399.76 L73.51,400.90 L73.65,402.01 L73.79,403.11 L73.92,404.19 L74.06,405.25 L74.20,406.29 L74.34,407.31 L74.47,408.31 L74.61,409.30 L74.75,410.27 L74.89,411.22 L75.02,412.15 L75.16,413.07 L75.30,413.97 L75.44,414.85 L75.57,415.72 L75.71,416.57 L75.85,417.41 L75.99,418.23 L76.13,419.04 L76.26,419.84 L76.40,420.62 L76.54,421.38 L76.68,422.13 L76.81,422.87 L76.95,423.60 L77.09,424.31 L77.23,425.01 L77.36,425.70 L77.50,426.37 L77.64,427.03 L77.78,427.69 L77.91,428.33 L78.05,428.95 L78.19,429.57 L78.33,430.18 L78.46,430.77 L78.60,431.36 L78.74,431.93 L78.88,432.49 L79.01,433.05 L79.15,433.59 L79.29,434.12 L79.43,434.65 L79.57,435.16 L79.70,435.67 L79.84,436.17 L79.87,436.27 L79.87,376.33 L79.96,377.42 L80.10,378.95 L80.24,380.46 L80.38,381.95 L80.51,383.40 L80.65,384.83 L80.79,386.24 L80.93,387.62 L81.07,388.97 L81.20,390.30 L81.34,391.61 L81.48,392.89 L81.62,394.15 L81.75,395.39 L81.89,396.61 L82.03,397.80 L82.17,398.98 L82.30,400.13 L82.44,401.26 L82.58,402.37 L82.72,403.46 L82.85,404.53 L82.99,405.59 L83.13,406.62 L83.27,407.64 L83.40,408.63 L83.54,409.61 L83.68,410.58 L83.82,411.52 L83.95,412.45 L84.09,413.36 L84.23,414.26 L84.37,415.13 L84.51,416.00 L84.64,416.85 L84.78,417.68 L84.92,418.50 L85.06,419.30 L85.19,420.09 L85.33,420.87 L85.47,421.63 L85.61,422.37 L85.74,423.11 L85.88,423.83 L86.02,424.54 L86.16,425.23 L86.29,425.92 L86.43,426.59 L86.57,427.25 L86.71,427.89 L86.84,428.53 L86.98,429.15 L87.12,429.77 L87.26,430.37 L87.39,430.96 L87.53,431.54 L87.67,432.11 L87.81,432.67 L87.95,433.22 L88.08,433.76 L88.12,433.92 L88.12,373.98 L88.21,374.95 L88.34,376.53 L88.48,378.08 L88.62,379.61 L88.76,381.10 L88.89,382.58 L89.03,384.02 L89.17,385.44 L89.31,386.83 L89.44,388.20 L89.58,389.55 L89.72,390.87 L89.86,392.16 L90.00,393.44 L90.13,394.69 L90.27,395.92 L90.41,397.12 L90.55,398.31 L90.68,399.47 L90.82,400.62 L90.96,401.74 L91.10,402.84 L91.23,403.92 L91.37,404.99 L91.51,406.03 L91.65,407.06 L91.78,408.07 L91.92,409.06 L92.06,410.03 L92.20,410.98 L92.33,411.92 L92.47,412.84 L92.61,413.75 L92.75,414.63 L92.88,415.51 L93.02,416.36 L93.16,417.21 L93.30,418.03 L93.44,418.84 L93.57,419.64 L93.71,420.42 L93.85,421.19 L93.99,421.95 L94.12,422.69 L94.26,423.42 L94.40,424.14 L94.54,424.84 L94.67,425.53 L94.81,426.21 L94.95,426.87 L95.09,427.53 L95.22,428.17 L95.36,428.80 L95.50,429.42 L95.64,430.03 L95.77,430.63 L95.91,431.21 L96.05,431.79 L96.19,432.35 L96.32,432.91 L96.38,433.13 L96.38,373.19 L96.45,374.00 L96.59,375.60 L96.72,377.17 L96.86,378.71 L97.00,380.22 L97.14,381.71 L97.27,383.17 L97.41,384.60 L97.55,386.01 L97.69,387.40 L97.82,388.76 L97.96,390.09 L98.10,391.40 L98.24,392.69 L98.38,393.95 L98.51,395.19 L98.65,396.41 L98.79,397.61 L98.93,398.79 L99.06,399.94 L99.20,401.08 L99.34,402.19 L99.48,403.29 L99.61,404.36 L99.75,405.42 L99.89,406.46 L100.03,407.47 L100.16,408.47 L100.30,409.46 L100.44,410.42 L100.58,411.37 L100.71,412.30 L100.85,413.21 L100.99,414.11 L101.13,414.99 L101.26,415.86 L101.40,416.71 L101.54,417.55 L101.68,418.37 L101.82,419.17 L101.95,419.96 L102.09,420.74 L102.23,421.50 L102.37,422.25 L102.50,422.99 L102.64,423.71 L102.78,424.42 L102.92,425.12 L103.05,425.81 L103.19,426.48 L103.33,427.14 L103.47,427.79 L103.60,428.43 L103.74,429.05 L103.88,429.67 L104.02,430.27 L104.15,430.87 L104.29,431.45 L104.43,432.02 L104.57,432.58 L104.64,432.86 L104.64,372.92 L104.69,373.57 L104.83,375.18 L104.97,376.75 L105.10,378.30 L105.24,379.82 L105.38,381.32 L105.52,382.79 L105.65,384.23 L105.79,385.64 L105.93,387.03 L106.07,388.40 L106.20,389.74 L106.34,391.06 L106.48,392.35 L106.62,393.62 L106.76,394.87 L106.89,396.09 L107.03,397.30 L107.17,398.48 L107.31,399.64 L107.44,400.78 L107.58,401.90 L107.72,403.00 L107.86,404.08 L107.99,405.14 L108.13,406.18 L108.27,407.21 L108.41,408.21 L108.54,409.20 L108.68,410.17 L108.82,411.12 L108.96,412.06 L109.09,412.97 L109.23,413.88 L109.37,414.76 L109.51,415.63 L109.64,416.49 L109.78,417.33 L109.92,418.15 L110.06,418.96 L110.20,419.76 L110.33,420.54 L110.47,421.30 L110.61,422.06 L110.75,422.80 L110.88,423.52 L111.02,424.24 L111.16,424.94 L111.30,425.63 L111.43,426.30 L111.57,426.97 L111.71,427.62 L111.85,428.26 L111.98,428.89 L112.12,429.51 L112.26,430.11 L112.40,430.71 L112.53,431.30 L112.67,431.87 L112.81,432.44 L112.89,432.77 L112.89,372.83 L112.93,373.32 L113.07,374.93 L113.21,376.51 L113.35,378.06 L113.48,379.59 L113.62,381.09 L113.76,382.56 L113.90,384.00 L114.03,385.42 L114.17,386.82 L114.31,388.19 L114.45,389.53 L114.58,390.85 L114.72,392.15 L114.86,393.42 L115.00,394.67 L115.13,395.90 L115.27,397.11 L115.41,398.30 L115.55,399.46 L115.69,400.60 L115.82,401.73 L115.96,402.83 L116.10,403.91 L116.24,404.98 L116.37,406.02 L116.51,407.05 L116.65,408.06 L116.79,409.05 L116.92,410.02 L117.06,410.97 L117.20,411.91 L117.34,412.83 L117.47,413.74 L117.61,414.62 L117.75,415.50 L117.89,416.35 L118.02,417.20 L118.16,418.02 L118.30,418.83 L118.44,419.63 L118.57,420.42 L118.71,421.18 L118.85,421.94 L118.99,422.68 L119.13,423.41 L119.26,424.13 L119.40,424.83 L119.54,425.52 L119.68,426.20 L119.81,426.86 L119.95,427.52 L120.09,428.16 L120.23,428.79 L120.36,429.41 L120.50,430.02 L120.64,430.62 L120.78,431.21 L120.91,431.78 L121.05,432.35 L121.15,432.74 L121.15,372.80 L121.18,373.12 L121.31,374.74 L121.45,376.32 L121.59,377.88 L121.73,379.41 L121.86,380.91 L122.00,382.38 L122.14,383.83 L122.28,385.26 L122.41,386.65 L122.55,388.02 L122.69,389.37 L122.83,390.70 L122.96,392.00 L123.10,393.27 L123.24,394.53 L123.38,395.76 L123.51,396.97 L123.65,398.16 L123.79,399.32 L123.93,400.47 L124.07,401.59 L124.20,402.70 L124.34,403.78 L124.48,404.85 L124.62,405.90 L124.75,406.93 L124.89,407.94 L125.03,408.93 L125.17,409.90 L125.30,410.86 L125.44,411.80 L125.58,412.72 L125.72,413.63 L125.85,414.52 L125.99,415.39 L126.13,416.25 L126.27,417.10 L126.40,417.93 L126.54,418.74 L126.68,419.54 L126.82,420.32 L126.95,421.09 L127.09,421.85 L127.23,422.59 L127.37,423.33 L127.51,424.04 L127.64,424.75 L127.78,425.44 L127.92,426.12 L128.06,426.79 L128.19,427.44 L128.33,428.09 L128.47,428.72 L128.61,429.34 L128.74,429.95 L128.88,430.55 L129.02,431.14 L129.16,431.71 L129.29,432.28 L129.40,432.73 L129.40,372.79 L129.42,372.95 L129.56,374.57 L129.69,376.16 L129.83,377.72 L129.97,379.25 L130.11,380.75 L130.24,382.23 L130.38,383.68 L130.52,385.11 L130.66,386.51 L130.79,387.88 L130.93,389.23 L131.07,390.56 L131.21,391.86 L131.34,393.14 L131.48,394.39 L131.62,395.63 L131.76,396.84 L131.89,398.03 L132.03,399.20 L132.17,400.35 L132.31,401.47 L132.44,402.58 L132.58,403.67 L132.72,404.74 L132.86,405.79 L133.00,406.82 L133.13,407.83 L133.27,408.82 L133.41,409.80 L133.55,410.76 L133.68,411.70 L133.82,412.63 L133.96,413.53 L134.10,414.43 L134.23,415.30 L134.37,416.16 L134.51,417.01 L134.65,417.84 L134.78,418.65 L134.92,419.45 L135.06,420.24 L135.20,421.01 L135.33,421.77 L135.47,422.52 L135.61,423.25 L135.75,423.97 L135.88,424.67 L136.02,425.37 L136.16,426.05 L136.30,426.72 L136.44,427.37 L136.57,428.02 L136.71,428.65 L136.85,429.27 L136.99,429.88 L137.12,430.48 L137.26,431.07 L137.40,431.65 L137.54,432.22 L137.66,432.72 L137.66,372.78 L137.80,374.40 L137.94,376.00 L138.07,377.56 L138.21,379.09 L138.35,380.60 L138.49,382.08 L138.62,383.53 L138.76,384.96 L138.90,386.36 L139.04,387.74 L139.17,389.09 L139.31,390.42 L139.45,391.73 L139.59,393.01 L139.72,394.27 L139.86,395.50 L140.00,396.72 L140.14,397.91 L140.27,399.08 L140.41,400.23 L140.55,401.36 L140.69,402.47 L140.82,403.56 L140.96,404.63 L141.10,405.68 L141.24,406.71 L141.38,407.73 L141.51,408.72 L141.65,409.70 L141.79,410.66 L141.93,411.60 L142.06,412.53 L142.20,413.44 L142.34,414.34 L142.48,415.21 L142.61,416.08 L142.75,416.92 L142.89,417.75 L143.03,418.57 L143.16,419.37 L143.30,420.16 L143.44,420.93 L143.58,421.69 L143.71,422.44 L143.85,423.17 L143.99,423.89 L144.13,424.60 L144.26,425.30 L144.40,425.98 L144.54,426.65 L144.68,427.31 L144.82,427.95 L144.95,428.59 L145.09,429.21 L145.23,429.82 L145.37,430.42 L145.50,431.01 L145.64,431.59 L145.78,432.16 L145.92,432.72 L145.92,372.78 L146.04,374.24 L146.18,375.84 L146.32,377.40 L146.45,378.94 L146.59,380.45 L146.73,381.93 L146.87,383.39 L147.00,384.82 L147.14,386.22 L147.28,387.60 L147.42,388.96 L147.55,390.29 L147.69,391.60 L147.83,392.88 L147.97,394.14 L148.10,395.38 L148.24,396.60 L148.38,397.79 L148.52,398.96 L148.65,400.12 L148.79,401.25 L148.93,402.36 L149.07,403.45 L149.20,404.52 L149.34,405.58 L149.48,406.61 L149.62,407.63 L149.76,408.62 L149.89,409.60 L150.03,410.57 L150.17,411.51 L150.31,412.44 L150.44,413.35 L150.58,414.25 L150.72,415.13 L150.86,415.99 L150.99,416.84 L151.13,417.67 L151.27,418.49 L151.41,419.29 L151.54,420.08 L151.68,420.86 L151.82,421.62 L151.96,422.37 L152.09,423.10 L152.23,423.82 L152.37,424.53 L152.51,425.23 L152.64,425.91 L152.78,426.58 L152.92,427.24 L153.06,427.89 L153.20,428.52 L153.33,429.15 L153.47,429.76 L153.61,430.36 L153.75,430.96 L153.88,431.54 L154.02,432.11 L154.16,432.67 L154.17,432.72 L154.17,372.78 L154.28,374.08 L154.42,375.68 L154.56,377.25 L154.69,378.79 L154.83,380.30 L154.97,381.78 L155.11,383.24 L155.25,384.68 L155.38,386.08 L155.52,387.47 L155.66,388.82 L155.80,390.16 L155.93,391.47 L156.07,392.75 L156.21,394.02 L156.35,395.26 L156.48,396.47 L156.62,397.67 L156.76,398.85 L156.90,400.00 L157.03,401.13 L157.17,402.25 L157.31,403.34 L157.45,404.42 L157.58,405.47 L157.72,406.51 L157.86,407.52 L158.00,408.52 L158.13,409.51 L158.27,410.47 L158.41,411.42 L158.55,412.35 L158.69,413.26 L158.82,414.16 L158.96,415.04 L159.10,415.90 L159.24,416.75 L159.37,417.59 L159.51,418.41 L159.65,419.21 L159.79,420.00 L159.92,420.78 L160.06,421.54 L160.20,422.29 L160.34,423.03 L160.47,423.75 L160.61,424.46 L160.75,425.16 L160.89,425.84 L161.02,426.51 L161.16,427.17 L161.30,427.82 L161.44,428.46 L161.57,429.09 L161.71,429.70 L161.85,430.30 L161.99,430.90 L162.13,431.48 L162.26,432.05 L162.40,432.61 L162.43,432.72 L162.43,372.78 L162.52,373.92 L162.66,375.52 L162.80,377.09 L162.94,378.63 L163.07,380.15 L163.21,381.64 L163.35,383.10 L163.49,384.53 L163.63,385.94 L163.76,387.33 L163.90,388.69 L164.04,390.02 L164.18,391.34 L164.31,392.62 L164.45,393.89 L164.59,395.13 L164.73,396.35 L164.86,397.55 L165.00,398.73 L165.14,399.89 L165.28,401.02 L165.41,402.14 L165.55,403.23 L165.69,404.31 L165.83,405.37 L165.96,406.40 L166.10,407.42 L166.24,408.42 L166.38,409.41 L166.51,410.37 L166.65,411.32 L166.79,412.25 L166.93,413.17 L167.07,414.07 L167.20,414.95 L167.34,415.82 L167.48,416.67 L167.62,417.50 L167.75,418.33 L167.89,419.13 L168.03,419.92 L168.17,420.70 L168.30,421.47 L168.44,422.22 L168.58,422.95 L168.72,423.68 L168.85,424.39 L168.99,425.09 L169.13,425.77 L169.27,426.45 L169.40,427.11 L169.54,427.76 L169.68,428.40 L169.82,429.02 L169.95,429.64 L170.09,430.24 L170.23,430.84 L170.37,431.42 L170.51,431.99 L170.64,432.56 L170.68,432.72 L170.68,372.78 L170.77,373.76 L170.90,375.36 L171.04,376.93 L171.18,378.48 L171.32,380.00 L171.45,381.49 L171.59,382.95 L171.73,384.39 L171.87,385.80 L172.00,387.19 L172.14,388.55 L172.28,389.89 L172.42,391.21 L172.56,392.50 L172.69,393.76 L172.83,395.01 L172.97,396.23 L173.11,397.43 L173.24,398.61 L173.38,399.77 L173.52,400.91 L173.66,402.03 L173.79,403.12 L173.93,404.20 L174.07,405.26 L174.21,406.30 L174.34,407.32 L174.48,408.33 L174.62,409.31 L174.76,410.28 L174.89,411.23 L175.03,412.16 L175.17,413.08 L175.31,413.98 L175.44,414.86 L175.58,415.73 L175.72,416.58 L175.86,417.42 L176.00,418.24 L176.13,419.05 L176.27,419.85 L176.41,420.63 L176.55,421.39 L176.68,422.14 L176.82,422.88 L176.96,423.61 L177.10,424.32 L177.23,425.02 L177.37,425.71 L177.51,426.38 L177.65,427.04 L177.78,427.69 L177.92,428.33 L178.06,428.96 L178.20,429.58 L178.33,430.18 L178.47,430.78 L178.61,431.36 L178.75,431.94 L178.88,432.50 L178.94,432.72 L178.94,372.78 L179.01,373.60 L179.15,375.20 L179.28,376.78 L179.42,378.33 L179.56,379.85 L179.70,381.34 L179.83,382.81 L179.97,384.25 L180.11,385.66 L180.25,387.05 L180.38,388.42 L180.52,389.76 L180.66,391.08 L180.80,392.37 L180.94,393.64 L181.07,394.89 L181.21,396.11 L181.35,397.31 L181.49,398.50 L181.62,399.66 L181.76,400.80 L181.90,401.92 L182.04,403.02 L182.17,404.10 L182.31,405.16 L182.45,406.20 L182.59,407.22 L182.72,408.23 L182.86,409.21 L183.00,410.18 L183.14,411.13 L183.27,412.07 L183.41,412.99 L183.55,413.89 L183.69,414.78 L183.82,415.65 L183.96,416.50 L184.10,417.34 L184.24,418.16 L184.38,418.97 L184.51,419.77 L184.65,420.55 L184.79,421.32 L184.93,422.07 L185.06,422.81 L185.20,423.53 L185.34,424.25 L185.48,424.95 L185.61,425.64 L185.75,426.31 L185.89,426.98 L186.03,427.63 L186.16,428.27 L186.30,428.90 L186.44,429.52 L186.58,430.12 L186.71,430.72 L186.85,431.30 L186.99,431.88 L187.13,432.44 L187.20,432.72 L187.20,372.78 L187.25,373.43 L187.39,375.04 L187.53,376.62 L187.66,378.17 L187.80,379.70 L187.94,381.19 L188.08,382.66 L188.21,384.11 L188.35,385.52 L188.49,386.92 L188.63,388.28 L188.76,389.63 L188.90,390.94 L189.04,392.24 L189.18,393.51 L189.32,394.76 L189.45,395.99 L189.59,397.20 L189.73,398.38 L189.87,399.54 L190.00,400.68 L190.14,401.81 L190.28,402.91 L190.42,403.99 L190.55,405.05 L190.69,406.09 L190.83,407.12 L190.97,408.13 L191.10,409.12 L191.24,410.09 L191.38,411.04 L191.52,411.98 L191.65,412.90 L191.79,413.80 L191.93,414.69 L192.07,415.56 L192.20,416.41 L192.34,417.26 L192.48,418.08 L192.62,418.89" fill="none" stroke="#3d63d6" stroke-width="1.5" stroke-dasharray="1.8 1.7"/>
<path d="M81,375.5 L59,375.5" stroke="#3d63d6" stroke-width="1.3" stroke-dasharray="3 2"/><path d="M55.6,375.5 L60.6,373.2 L59.4,375.5 L60.6,377.8 Z" fill="#3d63d6"/>
<path d="M69,450.3 L86,450.3" stroke="#7d9be3" stroke-width="1.6"/><path d="M89.4,450.3 L84.4,448 L85.6,450.3 L84.4,452.6 Z" fill="#7d9be3"/>
<rect x="128.2" y="438.8" width="66.1" height="22.5" rx="1.5" fill="#fff" stroke="#d4d4d4" stroke-width="0.8"/>
<path d="M132.6,446 L140,446" stroke="#3d63d6" stroke-width="1.3" stroke-dasharray="2.4 2.3"/>
<path d="M132.4,457 L139.6,457" stroke="#7d9be3" stroke-width="2.6"/>
<text x="143.6" y="447.9" font-size="8.8" text-anchor="start" textLength="45.9" lengthAdjust="spacingAndGlyphs">Peritoneum</text>
<text x="143.6" y="460.1" font-size="8.8" text-anchor="start" textLength="23.1" lengthAdjust="spacingAndGlyphs">Blood</text>
<text x="245.3" y="347.2" font-size="16.2" text-anchor="start" font-weight="bold" fill="#000">h</text>
<line x1="296.8" y1="349.8" x2="296.8" y2="474.1" stroke="#7a7a7a" stroke-width="1"/>
<line x1="296.3" y1="474.1" x2="345.3" y2="474.1" stroke="#7a7a7a" stroke-width="1"/>
<line x1="292.6" y1="462.3" x2="296.8" y2="462.3" stroke="#7a7a7a" stroke-width="1"/>
<text x="287.8" y="465.8" font-size="9.9" text-anchor="end">0.01</text>
<line x1="292.6" y1="443.46" x2="296.8" y2="443.46" stroke="#7a7a7a" stroke-width="1"/>
<text x="287.8" y="446.96" font-size="9.9" text-anchor="end">0.02</text>
<line x1="292.6" y1="424.62" x2="296.8" y2="424.62" stroke="#7a7a7a" stroke-width="1"/>
<text x="287.8" y="428.12" font-size="9.9" text-anchor="end">0.03</text>
<line x1="292.6" y1="405.78" x2="296.8" y2="405.78" stroke="#7a7a7a" stroke-width="1"/>
<text x="287.8" y="409.28" font-size="9.9" text-anchor="end">0.04</text>
<line x1="292.6" y1="386.94" x2="296.8" y2="386.94" stroke="#7a7a7a" stroke-width="1"/>
<text x="287.8" y="390.44" font-size="9.9" text-anchor="end">0.05</text>
<line x1="292.6" y1="368.1" x2="296.8" y2="368.1" stroke="#7a7a7a" stroke-width="1"/>
<text x="287.8" y="371.6" font-size="9.9" text-anchor="end">0.06</text>
<line x1="311.5" y1="474.1" x2="311.5" y2="477.5" stroke="#7a7a7a" stroke-width="1"/>
<text x="316.3" y="484.6" font-size="10" text-anchor="end" transform="rotate(-45 316.3 484.6)">Bare</text>
<line x1="333.1" y1="474.1" x2="333.1" y2="477.5" stroke="#7a7a7a" stroke-width="1"/>
<text x="337.9" y="484.6" font-size="10" text-anchor="end" transform="rotate(-45 337.9 484.6)">PEG</text>
<text x="320.2" y="352.5" font-size="10" text-anchor="middle">i.p.</text>
<text transform="translate(258.4 412.3) rotate(-90)" font-size="10.2" text-anchor="middle"><tspan font-style="italic">k</tspan><tspan font-size="6" dy="1.5">a</tspan><tspan dy="-1.5"> (min</tspan><tspan font-size="6" dy="-3.4">–1</tspan><tspan dy="3.4">)</tspan></text>
<circle cx="311.7" cy="438.37" r="1.95" fill="#f0b1b3" stroke="#333" stroke-width="0.55"/>
<circle cx="308.6" cy="443.27" r="1.95" fill="#f0b1b3" stroke="#333" stroke-width="0.55"/>
<circle cx="310.9" cy="443.65" r="1.95" fill="#f0b1b3" stroke="#333" stroke-width="0.55"/>
<circle cx="313.5" cy="441.58" r="1.95" fill="#f0b1b3" stroke="#333" stroke-width="0.55"/>
<circle cx="311.3" cy="444.78" r="1.95" fill="#f0b1b3" stroke="#333" stroke-width="0.55"/>
<circle cx="311.7" cy="464.18" r="1.95" fill="#f0b1b3" stroke="#333" stroke-width="0.55"/>
<circle cx="333.3" cy="355.85" r="1.95" fill="#22b29a" stroke="#333" stroke-width="0.55"/>
<circle cx="333.3" cy="363.39" r="1.95" fill="#22b29a" stroke="#333" stroke-width="0.55"/>
<circle cx="333.3" cy="395.42" r="1.95" fill="#22b29a" stroke="#333" stroke-width="0.55"/>
<circle cx="333.3" cy="405.21" r="1.95" fill="#22b29a" stroke="#333" stroke-width="0.55"/>
<circle cx="333.3" cy="422.36" r="1.95" fill="#22b29a" stroke="#333" stroke-width="0.55"/>
<circle cx="333.3" cy="468.89" r="1.95" fill="#22b29a" stroke="#333" stroke-width="0.55"/>
<line x1="421.7" y1="350.1" x2="421.7" y2="474.1" stroke="#7a7a7a" stroke-width="1"/>
<line x1="421.2" y1="474.1" x2="518.7" y2="474.1" stroke="#7a7a7a" stroke-width="1"/>
<line x1="417.5" y1="470.8" x2="421.7" y2="470.8" stroke="#7a7a7a" stroke-width="1"/>
<text x="413.2" y="474.3" font-size="9.9" text-anchor="end">0</text>
<line x1="417.5" y1="447.74" x2="421.7" y2="447.74" stroke="#7a7a7a" stroke-width="1"/>
<text x="413.2" y="451.24" font-size="9.9" text-anchor="end">0.2</text>
<line x1="417.5" y1="424.68" x2="421.7" y2="424.68" stroke="#7a7a7a" stroke-width="1"/>
<text x="413.2" y="428.18" font-size="9.9" text-anchor="end">0.4</text>
<line x1="417.5" y1="401.62" x2="421.7" y2="401.62" stroke="#7a7a7a" stroke-width="1"/>
<text x="413.2" y="405.12" font-size="9.9" text-anchor="end">0.6</text>
<line x1="417.5" y1="378.56" x2="421.7" y2="378.56" stroke="#7a7a7a" stroke-width="1"/>
<text x="413.2" y="382.06" font-size="9.9" text-anchor="end">0.8</text>
<line x1="417.5" y1="355.5" x2="421.7" y2="355.5" stroke="#7a7a7a" stroke-width="1"/>
<text x="413.2" y="359" font-size="9.9" text-anchor="end">1.0</text>
<line x1="436.3" y1="474.1" x2="436.3" y2="477.5" stroke="#7a7a7a" stroke-width="1"/>
<text x="441.1" y="484.6" font-size="10" text-anchor="end" transform="rotate(-45 441.1 484.6)">Bare</text>
<line x1="452.1" y1="474.1" x2="452.1" y2="477.5" stroke="#7a7a7a" stroke-width="1"/>
<text x="456.9" y="484.6" font-size="10" text-anchor="end" transform="rotate(-45 456.9 484.6)">PEG</text>
<line x1="492.1" y1="474.1" x2="492.1" y2="477.5" stroke="#7a7a7a" stroke-width="1"/>
<text x="496.9" y="484.6" font-size="10" text-anchor="end" transform="rotate(-45 496.9 484.6)">Bare</text>
<line x1="507.5" y1="474.1" x2="507.5" y2="477.5" stroke="#7a7a7a" stroke-width="1"/>
<text x="512.3" y="484.6" font-size="10" text-anchor="end" transform="rotate(-45 512.3 484.6)">PEG</text>
<text x="444" y="352.8" font-size="10" text-anchor="middle">i.v.</text>
<text x="497.3" y="352.9" font-size="10" text-anchor="middle">i.p.</text>
<text transform="translate(389 412.3) rotate(-90)" font-size="10.2" text-anchor="middle"><tspan font-style="italic">k</tspan><tspan font-size="6" dy="1.5">e</tspan><tspan dy="-1.5"> (min</tspan><tspan font-size="6" dy="-3.4">–1</tspan><tspan dy="3.4">)</tspan></text>
<circle cx="436.3" cy="425.83" r="1.95" fill="#f0b1b3" stroke="#333" stroke-width="0.55"/>
<circle cx="436.3" cy="439.67" r="1.95" fill="#f0b1b3" stroke="#333" stroke-width="0.55"/>
<circle cx="433.1" cy="441.4" r="1.95" fill="#f0b1b3" stroke="#333" stroke-width="0.55"/>
<circle cx="436.3" cy="443.13" r="1.95" fill="#f0b1b3" stroke="#333" stroke-width="0.55"/>
<circle cx="436.3" cy="450.05" r="1.95" fill="#f0b1b3" stroke="#333" stroke-width="0.55"/>
<circle cx="436.3" cy="459.27" r="1.95" fill="#f0b1b3" stroke="#333" stroke-width="0.55"/>
<circle cx="451.7" cy="399.66" r="1.95" fill="#22b29a" stroke="#333" stroke-width="0.55"/>
<circle cx="448.7" cy="412.92" r="1.95" fill="#22b29a" stroke="#333" stroke-width="0.55"/>
<circle cx="451.7" cy="413.38" r="1.95" fill="#22b29a" stroke="#333" stroke-width="0.55"/>
<circle cx="454.8" cy="412" r="1.95" fill="#22b29a" stroke="#333" stroke-width="0.55"/>
<circle cx="452.1" cy="436.21" r="1.95" fill="#22b29a" stroke="#333" stroke-width="0.55"/>
<circle cx="485.6" cy="468.49" r="1.6" fill="#f0b1b3" stroke="#333" stroke-width="0.55"/>
<circle cx="488.9" cy="468.72" r="1.6" fill="#f0b1b3" stroke="#333" stroke-width="0.55"/>
<circle cx="491.9" cy="468.72" r="1.6" fill="#f0b1b3" stroke="#333" stroke-width="0.55"/>
<circle cx="495" cy="468.49" r="1.6" fill="#f0b1b3" stroke="#333" stroke-width="0.55"/>
<circle cx="498" cy="467" r="1.6" fill="#f0b1b3" stroke="#333" stroke-width="0.55"/>
<circle cx="507.6" cy="355.5" r="1.95" fill="#22b29a" stroke="#333" stroke-width="0.55"/>
<circle cx="504.7" cy="463.42" r="1.95" fill="#22b29a" stroke="#333" stroke-width="0.55"/>
<circle cx="507.7" cy="463.77" r="1.95" fill="#22b29a" stroke="#333" stroke-width="0.55"/>
<circle cx="504.7" cy="466.42" r="1.95" fill="#22b29a" stroke="#333" stroke-width="0.55"/>
<circle cx="507.7" cy="467.8" r="1.95" fill="#22b29a" stroke="#333" stroke-width="0.55"/>
<circle cx="510.8" cy="465.84" r="1.95" fill="#22b29a" stroke="#333" stroke-width="0.55"/>
<circle cx="506.5" cy="465.04" r="1.95" fill="#22b29a" stroke="#333" stroke-width="0.55"/>
<line x1="583.2" y1="350.1" x2="583.2" y2="474.2" stroke="#7a7a7a" stroke-width="1"/>
<line x1="582.7" y1="474.2" x2="682.6" y2="474.2" stroke="#7a7a7a" stroke-width="1"/>
<line x1="579" y1="469.3" x2="583.2" y2="469.3" stroke="#7a7a7a" stroke-width="1"/>
<text x="575" y="472.8" font-size="9.9" text-anchor="end">0</text>
<line x1="579" y1="453.33" x2="583.2" y2="453.33" stroke="#7a7a7a" stroke-width="1"/>
<text x="575" y="456.83" font-size="9.9" text-anchor="end">100</text>
<line x1="579" y1="437.36" x2="583.2" y2="437.36" stroke="#7a7a7a" stroke-width="1"/>
<text x="575" y="440.86" font-size="9.9" text-anchor="end">200</text>
<line x1="579" y1="421.39" x2="583.2" y2="421.39" stroke="#7a7a7a" stroke-width="1"/>
<text x="575" y="424.89" font-size="9.9" text-anchor="end">300</text>
<line x1="579" y1="405.42" x2="583.2" y2="405.42" stroke="#7a7a7a" stroke-width="1"/>
<text x="575" y="408.92" font-size="9.9" text-anchor="end">400</text>
<line x1="579" y1="389.45" x2="583.2" y2="389.45" stroke="#7a7a7a" stroke-width="1"/>
<text x="575" y="392.95" font-size="9.9" text-anchor="end">500</text>
<line x1="579" y1="373.48" x2="583.2" y2="373.48" stroke="#7a7a7a" stroke-width="1"/>
<text x="575" y="376.98" font-size="9.9" text-anchor="end">600</text>
<line x1="579" y1="357.51" x2="583.2" y2="357.51" stroke="#7a7a7a" stroke-width="1"/>
<text x="575" y="361.01" font-size="9.9" text-anchor="end">700</text>
<line x1="597.3" y1="474.2" x2="597.3" y2="477.6" stroke="#7a7a7a" stroke-width="1"/>
<text x="602.1" y="484.6" font-size="10" text-anchor="end" transform="rotate(-45 602.1 484.6)">PEG</text>
<line x1="613.3" y1="474.2" x2="613.3" y2="477.6" stroke="#7a7a7a" stroke-width="1"/>
<text x="618.1" y="484.6" font-size="10" text-anchor="end" transform="rotate(-45 618.1 484.6)">Bare</text>
<line x1="653.2" y1="474.2" x2="653.2" y2="477.6" stroke="#7a7a7a" stroke-width="1"/>
<text x="658" y="484.6" font-size="10" text-anchor="end" transform="rotate(-45 658 484.6)">Bare</text>
<line x1="668.7" y1="474.2" x2="668.7" y2="477.6" stroke="#7a7a7a" stroke-width="1"/>
<text x="673.5" y="484.6" font-size="10" text-anchor="end" transform="rotate(-45 673.5 484.6)">PEG</text>
<text x="605.2" y="352.5" font-size="10" text-anchor="middle">i.v.</text>
<text x="661.4" y="352.2" font-size="10" text-anchor="middle">i.p.</text>
<text transform="translate(547.2 413) rotate(-90)" font-size="10.4" text-anchor="middle">Q<tspan font-size="6" dy="1.5">0</tspan><tspan dy="-1.5"> (pM)</tspan></text>
<circle cx="597.6" cy="429.69" r="1.95" fill="#f0b1b3" stroke="#333" stroke-width="0.55"/>
<circle cx="597.6" cy="459.24" r="1.95" fill="#f0b1b3" stroke="#333" stroke-width="0.55"/>
<circle cx="597.6" cy="464.19" r="1.95" fill="#f0b1b3" stroke="#333" stroke-width="0.55"/>
<circle cx="594" cy="468.82" r="1.95" fill="#f0b1b3" stroke="#333" stroke-width="0.55"/>
<circle cx="597.6" cy="468.98" r="1.95" fill="#f0b1b3" stroke="#333" stroke-width="0.55"/>
<circle cx="600.9" cy="468.02" r="1.95" fill="#f0b1b3" stroke="#333" stroke-width="0.55"/>
<circle cx="599.5" cy="467.38" r="1.95" fill="#f0b1b3" stroke="#333" stroke-width="0.55"/>
<circle cx="613.3" cy="458.44" r="1.95" fill="#22b29a" stroke="#333" stroke-width="0.55"/>
<circle cx="613.3" cy="464.83" r="1.95" fill="#22b29a" stroke="#333" stroke-width="0.55"/>
<circle cx="610" cy="468.82" r="1.95" fill="#22b29a" stroke="#333" stroke-width="0.55"/>
<circle cx="613.3" cy="468.98" r="1.95" fill="#22b29a" stroke="#333" stroke-width="0.55"/>
<circle cx="616.4" cy="468.02" r="1.95" fill="#22b29a" stroke="#333" stroke-width="0.55"/>
<circle cx="615" cy="467.7" r="1.95" fill="#22b29a" stroke="#333" stroke-width="0.55"/>
<circle cx="653.2" cy="432.89" r="1.95" fill="#f0b1b3" stroke="#333" stroke-width="0.55"/>
<circle cx="651.8" cy="464.67" r="1.95" fill="#f0b1b3" stroke="#333" stroke-width="0.55"/>
<circle cx="654.5" cy="465.47" r="1.95" fill="#f0b1b3" stroke="#333" stroke-width="0.55"/>
<circle cx="650" cy="467.7" r="1.95" fill="#f0b1b3" stroke="#333" stroke-width="0.55"/>
<circle cx="653.2" cy="468.5" r="1.95" fill="#f0b1b3" stroke="#333" stroke-width="0.55"/>
<circle cx="669.3" cy="356.71" r="1.95" fill="#22b29a" stroke="#333" stroke-width="0.55"/>
<circle cx="668.7" cy="432.89" r="1.95" fill="#22b29a" stroke="#333" stroke-width="0.55"/>
<circle cx="668.7" cy="460.84" r="1.95" fill="#22b29a" stroke="#333" stroke-width="0.55"/>
<circle cx="671.2" cy="465.95" r="1.95" fill="#22b29a" stroke="#333" stroke-width="0.55"/>
<circle cx="665.8" cy="468.5" r="1.95" fill="#22b29a" stroke="#333" stroke-width="0.55"/>
<circle cx="668.7" cy="468.5" r="1.95" fill="#22b29a" stroke="#333" stroke-width="0.55"/>
</g></svg>
</body></html>
